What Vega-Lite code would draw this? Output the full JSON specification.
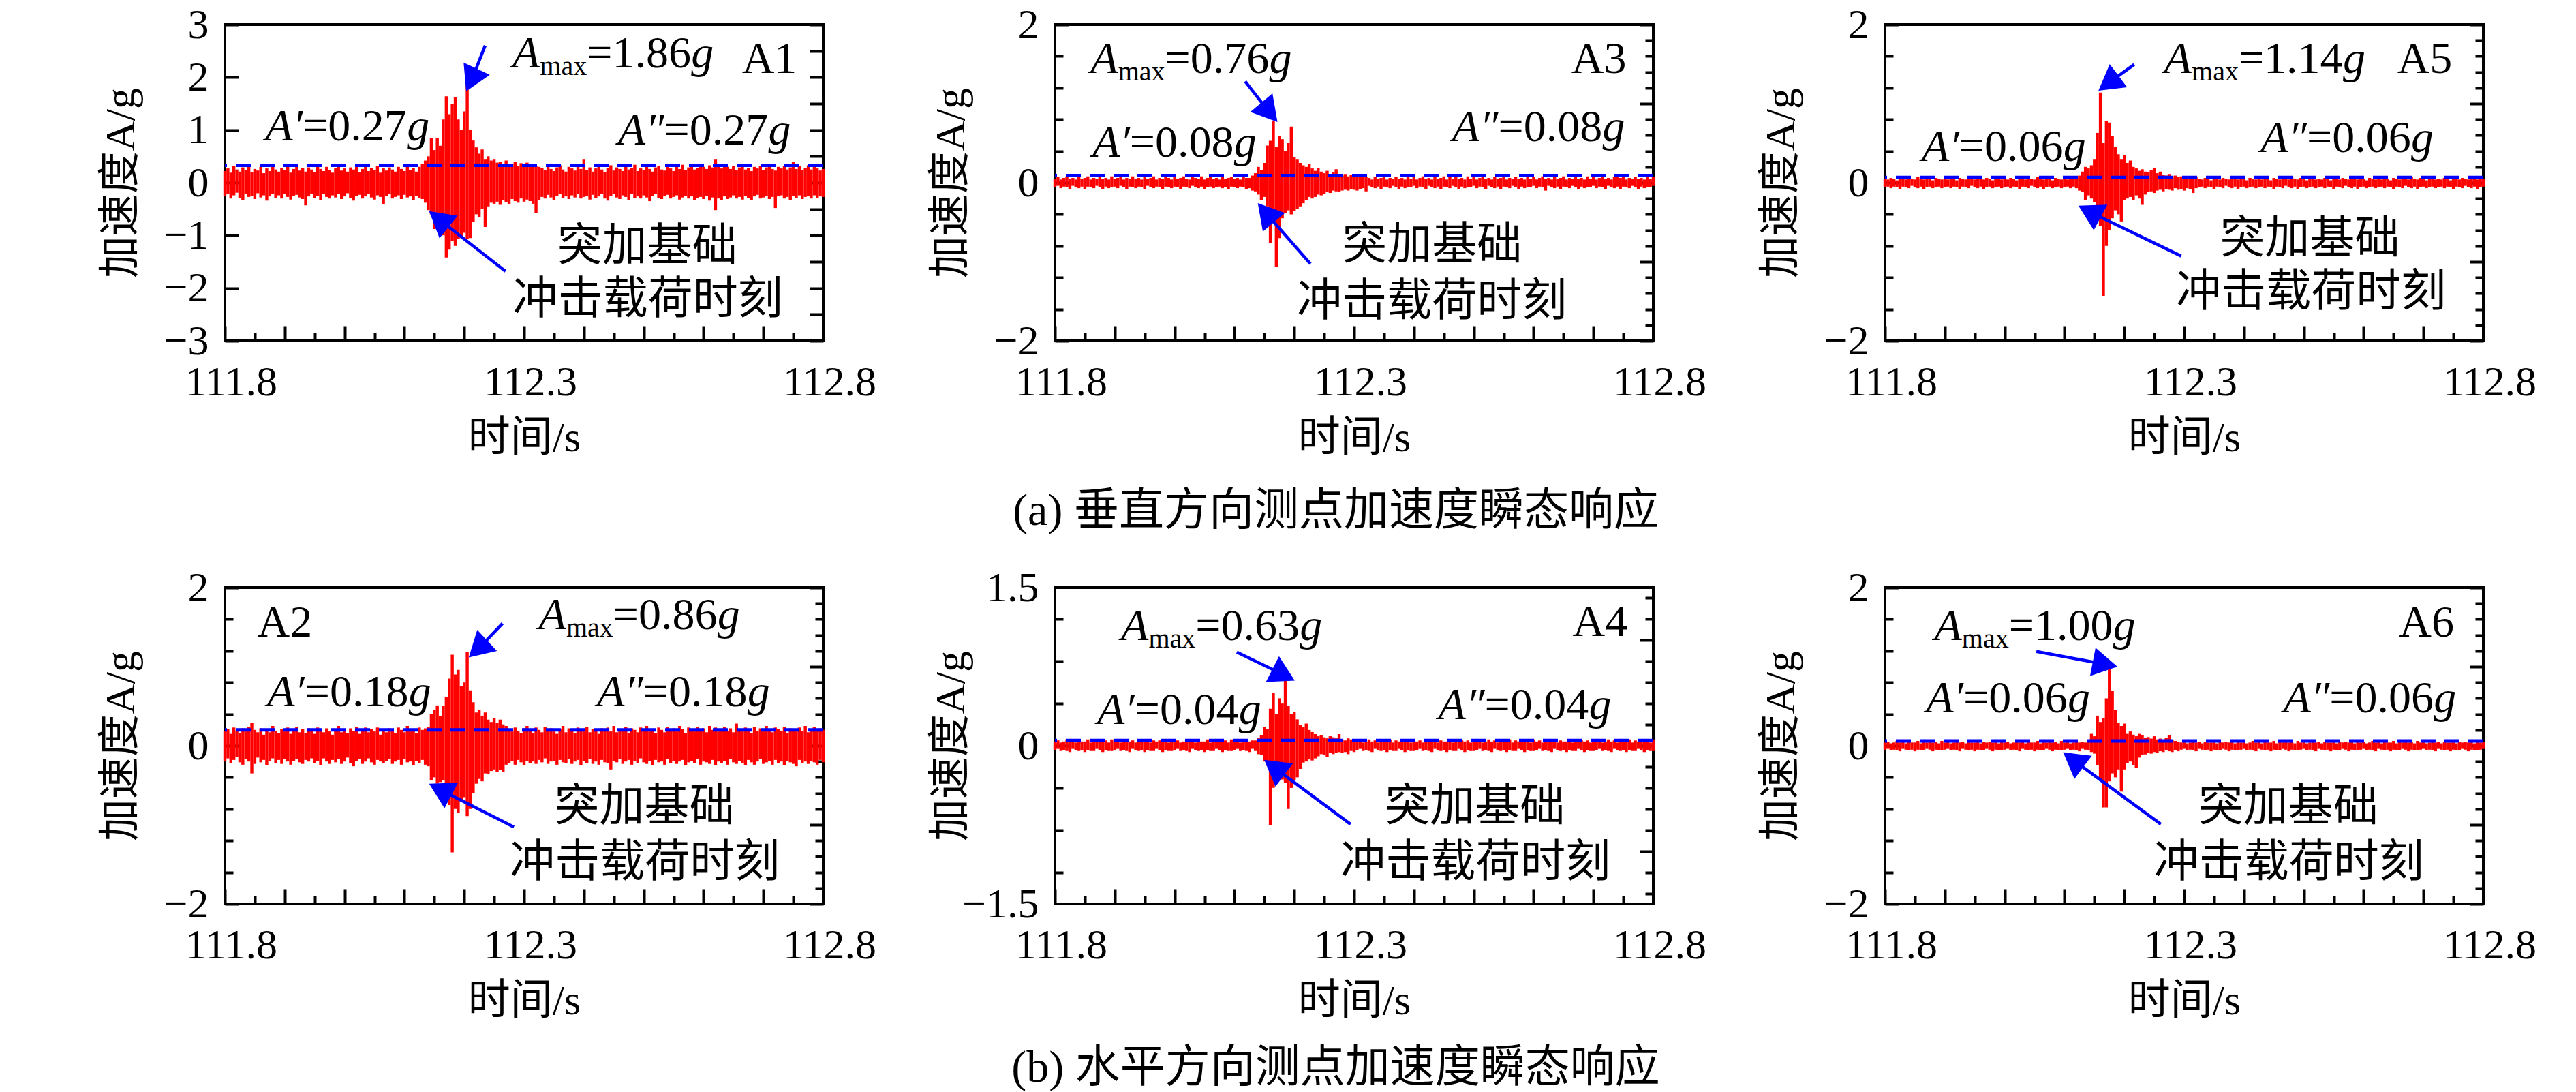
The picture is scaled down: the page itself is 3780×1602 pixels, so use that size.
{
  "$schema": "https://vega.github.io/schema/vega-lite/v6.json",
  "background": "white",
  "padding": {"left": 143, "top": 3, "right": 5, "bottom": 0},
  "datasets": {
    "s1": [
      {"t":111.800,"l":-0.26,"h":0.22},{"t":111.805,"l":-0.21,"h":0.27},{"t":111.810,"l":-0.30,"h":0.19},{"t":111.815,"l":-0.24,"h":0.31},{"t":111.820,"l":-0.19,"h":0.25},
      {"t":111.825,"l":-0.29,"h":0.21},{"t":111.830,"l":-0.33,"h":0.29},{"t":111.835,"l":-0.22,"h":0.24},{"t":111.840,"l":-0.27,"h":0.33},{"t":111.845,"l":-0.25,"h":0.20},
      {"t":111.850,"l":-0.31,"h":0.26},{"t":111.855,"l":-0.20,"h":0.23},{"t":111.860,"l":-0.28,"h":0.30},{"t":111.865,"l":-0.24,"h":0.18},{"t":111.870,"l":-0.34,"h":0.27},
      {"t":111.875,"l":-0.26,"h":0.22},{"t":111.880,"l":-0.21,"h":0.34},{"t":111.885,"l":-0.29,"h":0.25},{"t":111.890,"l":-0.24,"h":0.21},{"t":111.895,"l":-0.30,"h":0.28},
      {"t":111.900,"l":-0.22,"h":0.24},{"t":111.905,"l":-0.27,"h":0.30},{"t":111.910,"l":-0.32,"h":0.19},{"t":111.915,"l":-0.25,"h":0.26},{"t":111.920,"l":-0.23,"h":0.32},
      {"t":111.925,"l":-0.28,"h":0.23},{"t":111.930,"l":-0.31,"h":0.28},{"t":111.935,"l":-0.43,"h":0.21},{"t":111.940,"l":-0.26,"h":0.29},{"t":111.945,"l":-0.22,"h":0.25},
      {"t":111.950,"l":-0.29,"h":0.20},{"t":111.955,"l":-0.25,"h":0.31},{"t":111.960,"l":-0.33,"h":0.26},{"t":111.965,"l":-0.21,"h":0.22},{"t":111.970,"l":-0.27,"h":0.30},
      {"t":111.975,"l":-0.30,"h":0.24},{"t":111.980,"l":-0.24,"h":0.19},{"t":111.985,"l":-0.28,"h":0.28},{"t":111.990,"l":-0.22,"h":0.33},{"t":111.995,"l":-0.31,"h":0.23},
      {"t":112.000,"l":-0.26,"h":0.27},{"t":112.005,"l":-0.20,"h":0.21},{"t":112.010,"l":-0.29,"h":0.29},{"t":112.015,"l":-0.34,"h":0.25},{"t":112.020,"l":-0.25,"h":0.32},
      {"t":112.025,"l":-0.23,"h":0.20},{"t":112.030,"l":-0.30,"h":0.26},{"t":112.035,"l":-0.26,"h":0.30},{"t":112.040,"l":-0.21,"h":0.22},{"t":112.045,"l":-0.28,"h":0.28},
      {"t":112.050,"l":-0.32,"h":0.24},{"t":112.055,"l":-0.24,"h":0.31},{"t":112.060,"l":-0.27,"h":0.19},{"t":112.065,"l":-0.40,"h":0.27},{"t":112.070,"l":-0.25,"h":0.23},
      {"t":112.075,"l":-0.22,"h":0.29},{"t":112.080,"l":-0.30,"h":0.25},{"t":112.085,"l":-0.27,"h":0.21},{"t":112.090,"l":-0.24,"h":0.30},{"t":112.095,"l":-0.31,"h":0.26},
      {"t":112.100,"l":-0.23,"h":0.22},{"t":112.105,"l":-0.28,"h":0.33},{"t":112.110,"l":-0.26,"h":0.24},{"t":112.115,"l":-0.33,"h":0.28},{"t":112.120,"l":-0.25,"h":0.21},
      {"t":112.125,"l":-0.29,"h":0.30},{"t":112.130,"l":-0.31,"h":0.35},{"t":112.135,"l":-0.38,"h":0.42},{"t":112.140,"l":-0.52,"h":0.50},{"t":112.145,"l":-0.60,"h":0.84},
      {"t":112.150,"l":-0.88,"h":0.62},{"t":112.155,"l":-0.70,"h":0.85},{"t":112.160,"l":-0.95,"h":0.70},{"t":112.165,"l":-1.00,"h":1.20},{"t":112.170,"l":-1.42,"h":1.64},
      {"t":112.175,"l":-1.27,"h":1.30},{"t":112.180,"l":-1.10,"h":1.50},{"t":112.185,"l":-1.20,"h":1.62},{"t":112.190,"l":-1.06,"h":1.20},{"t":112.195,"l":-1.05,"h":1.00},
      {"t":112.200,"l":-0.95,"h":1.35},{"t":112.205,"l":-1.06,"h":1.86},{"t":112.210,"l":-1.05,"h":1.00},{"t":112.215,"l":-0.75,"h":0.80},{"t":112.220,"l":-0.60,"h":0.67},
      {"t":112.225,"l":-0.65,"h":0.55},{"t":112.230,"l":-0.50,"h":0.63},{"t":112.235,"l":-0.84,"h":0.45},{"t":112.240,"l":-0.45,"h":0.50},{"t":112.245,"l":-0.38,"h":0.42},
      {"t":112.250,"l":-0.40,"h":0.45},{"t":112.255,"l":-0.36,"h":0.38},{"t":112.260,"l":-0.42,"h":0.40},{"t":112.265,"l":-0.33,"h":0.35},{"t":112.270,"l":-0.37,"h":0.42},
      {"t":112.275,"l":-0.40,"h":0.33},{"t":112.280,"l":-0.31,"h":0.36},{"t":112.285,"l":-0.35,"h":0.40},{"t":112.290,"l":-0.38,"h":0.31},{"t":112.295,"l":-0.30,"h":0.37},
      {"t":112.300,"l":-0.36,"h":0.33},{"t":112.305,"l":-0.32,"h":0.38},{"t":112.310,"l":-0.35,"h":0.30},{"t":112.315,"l":-0.40,"h":0.34},{"t":112.320,"l":-0.58,"h":0.32},
      {"t":112.325,"l":-0.33,"h":0.30},{"t":112.330,"l":-0.27,"h":0.28},{"t":112.335,"l":-0.30,"h":0.24},{"t":112.340,"l":-0.23,"h":0.31},{"t":112.345,"l":-0.28,"h":0.26},
      {"t":112.350,"l":-0.33,"h":0.22},{"t":112.355,"l":-0.25,"h":0.29},{"t":112.360,"l":-0.22,"h":0.33},{"t":112.365,"l":-0.29,"h":0.25},{"t":112.370,"l":-0.26,"h":0.21},
      {"t":112.375,"l":-0.31,"h":0.30},{"t":112.380,"l":-0.24,"h":0.27},{"t":112.385,"l":-0.28,"h":0.23},{"t":112.390,"l":-0.21,"h":0.32},{"t":112.395,"l":-0.30,"h":0.26},
      {"t":112.400,"l":-0.27,"h":0.45},{"t":112.405,"l":-0.25,"h":0.24},{"t":112.410,"l":-0.32,"h":0.29},{"t":112.415,"l":-0.23,"h":0.21},{"t":112.420,"l":-0.29,"h":0.27},
      {"t":112.425,"l":-0.26,"h":0.31},{"t":112.430,"l":-0.22,"h":0.25},{"t":112.435,"l":-0.30,"h":0.20},{"t":112.440,"l":-0.34,"h":0.28},{"t":112.445,"l":-0.25,"h":0.33},
      {"t":112.450,"l":-0.21,"h":0.23},{"t":112.455,"l":-0.28,"h":0.29},{"t":112.460,"l":-0.31,"h":0.26},{"t":112.465,"l":-0.24,"h":0.22},{"t":112.470,"l":-0.27,"h":0.31},
      {"t":112.475,"l":-0.33,"h":0.25},{"t":112.480,"l":-0.22,"h":0.28},{"t":112.485,"l":-0.29,"h":0.34},{"t":112.490,"l":-0.26,"h":0.22},{"t":112.495,"l":-0.30,"h":0.27},
      {"t":112.500,"l":-0.24,"h":0.24},{"t":112.505,"l":-0.28,"h":0.30},{"t":112.510,"l":-0.35,"h":0.26},{"t":112.515,"l":-0.25,"h":0.21},{"t":112.520,"l":-0.22,"h":0.29},
      {"t":112.525,"l":-0.29,"h":0.32},{"t":112.530,"l":-0.31,"h":0.25},{"t":112.535,"l":-0.26,"h":0.23},{"t":112.540,"l":-0.23,"h":0.30},{"t":112.545,"l":-0.30,"h":0.27},
      {"t":112.550,"l":-0.27,"h":0.22},{"t":112.555,"l":-0.24,"h":0.31},{"t":112.560,"l":-0.32,"h":0.26},{"t":112.565,"l":-0.28,"h":0.34},{"t":112.570,"l":-0.25,"h":0.24},
      {"t":112.575,"l":-0.30,"h":0.29},{"t":112.580,"l":-0.26,"h":0.33},{"t":112.585,"l":-0.33,"h":0.25},{"t":112.590,"l":-0.29,"h":0.28},{"t":112.595,"l":-0.27,"h":0.36},
      {"t":112.600,"l":-0.31,"h":0.30},{"t":112.605,"l":-0.25,"h":0.26},{"t":112.610,"l":-0.34,"h":0.33},{"t":112.615,"l":-0.28,"h":0.29},{"t":112.620,"l":-0.52,"h":0.45},
      {"t":112.625,"l":-0.30,"h":0.31},{"t":112.630,"l":-0.33,"h":0.27},{"t":112.635,"l":-0.26,"h":0.35},{"t":112.640,"l":-0.31,"h":0.30},{"t":112.645,"l":-0.28,"h":0.26},
      {"t":112.650,"l":-0.24,"h":0.32},{"t":112.655,"l":-0.30,"h":0.24},{"t":112.660,"l":-0.27,"h":0.29},{"t":112.665,"l":-0.32,"h":0.33},{"t":112.670,"l":-0.25,"h":0.25},
      {"t":112.675,"l":-0.29,"h":0.28},{"t":112.680,"l":-0.33,"h":0.22},{"t":112.685,"l":-0.26,"h":0.30},{"t":112.690,"l":-0.23,"h":0.27},{"t":112.695,"l":-0.30,"h":0.31},
      {"t":112.700,"l":-0.28,"h":0.24},{"t":112.705,"l":-0.25,"h":0.29},{"t":112.710,"l":-0.31,"h":0.33},{"t":112.715,"l":-0.27,"h":0.26},{"t":112.720,"l":-0.48,"h":0.23},
      {"t":112.725,"l":-0.26,"h":0.30},{"t":112.730,"l":-0.24,"h":0.27},{"t":112.735,"l":-0.30,"h":0.32},{"t":112.740,"l":-0.27,"h":0.25},{"t":112.745,"l":-0.33,"h":0.29},
      {"t":112.750,"l":-0.25,"h":0.40},{"t":112.755,"l":-0.29,"h":0.26},{"t":112.760,"l":-0.24,"h":0.31},{"t":112.765,"l":-0.31,"h":0.24},{"t":112.770,"l":-0.27,"h":0.28},
      {"t":112.775,"l":-0.26,"h":0.33},{"t":112.780,"l":-0.30,"h":0.25},{"t":112.785,"l":-0.24,"h":0.30},{"t":112.790,"l":-0.29,"h":0.27},{"t":112.795,"l":-0.26,"h":0.23},
      {"t":112.800,"l":-0.27,"h":0.26}
    ],
    "s2": [
      {"t":111.800,"l":-0.20,"h":0.18},{"t":111.805,"l":-0.16,"h":0.21},{"t":111.810,"l":-0.22,"h":0.15},{"t":111.815,"l":-0.18,"h":0.23},{"t":111.820,"l":-0.14,"h":0.19},
      {"t":111.825,"l":-0.21,"h":0.16},{"t":111.830,"l":-0.24,"h":0.22},{"t":111.835,"l":-0.17,"h":0.18},{"t":111.840,"l":-0.20,"h":0.24},{"t":111.845,"l":-0.35,"h":0.29},
      {"t":111.850,"l":-0.23,"h":0.20},{"t":111.855,"l":-0.15,"h":0.17},{"t":111.860,"l":-0.21,"h":0.22},{"t":111.865,"l":-0.18,"h":0.14},{"t":111.870,"l":-0.25,"h":0.20},
      {"t":111.875,"l":-0.19,"h":0.17},{"t":111.880,"l":-0.16,"h":0.25},{"t":111.885,"l":-0.22,"h":0.19},{"t":111.890,"l":-0.18,"h":0.16},{"t":111.895,"l":-0.23,"h":0.21},
      {"t":111.900,"l":-0.17,"h":0.18},{"t":111.905,"l":-0.20,"h":0.23},{"t":111.910,"l":-0.24,"h":0.15},{"t":111.915,"l":-0.19,"h":0.20},{"t":111.920,"l":-0.17,"h":0.24},
      {"t":111.925,"l":-0.21,"h":0.17},{"t":111.930,"l":-0.23,"h":0.21},{"t":111.935,"l":-0.18,"h":0.16},{"t":111.940,"l":-0.20,"h":0.22},{"t":111.945,"l":-0.16,"h":0.19},
      {"t":111.950,"l":-0.22,"h":0.15},{"t":111.955,"l":-0.19,"h":0.23},{"t":111.960,"l":-0.25,"h":0.20},{"t":111.965,"l":-0.16,"h":0.17},{"t":111.970,"l":-0.20,"h":0.22},
      {"t":111.975,"l":-0.23,"h":0.18},{"t":111.980,"l":-0.18,"h":0.14},{"t":111.985,"l":-0.21,"h":0.21},{"t":111.990,"l":-0.17,"h":0.25},{"t":111.995,"l":-0.23,"h":0.17},
      {"t":112.000,"l":-0.20,"h":0.20},{"t":112.005,"l":-0.15,"h":0.16},{"t":112.010,"l":-0.22,"h":0.22},{"t":112.015,"l":-0.26,"h":0.19},{"t":112.020,"l":-0.19,"h":0.24},
      {"t":112.025,"l":-0.17,"h":0.15},{"t":112.030,"l":-0.23,"h":0.20},{"t":112.035,"l":-0.20,"h":0.23},{"t":112.040,"l":-0.16,"h":0.17},{"t":112.045,"l":-0.21,"h":0.21},
      {"t":112.050,"l":-0.24,"h":0.18},{"t":112.055,"l":-0.18,"h":0.23},{"t":112.060,"l":-0.20,"h":0.14},{"t":112.065,"l":-0.22,"h":0.20},{"t":112.070,"l":-0.19,"h":0.17},
      {"t":112.075,"l":-0.17,"h":0.22},{"t":112.080,"l":-0.23,"h":0.19},{"t":112.085,"l":-0.20,"h":0.16},{"t":112.090,"l":-0.18,"h":0.23},{"t":112.095,"l":-0.24,"h":0.20},
      {"t":112.100,"l":-0.17,"h":0.17},{"t":112.105,"l":-0.21,"h":0.25},{"t":112.110,"l":-0.20,"h":0.18},{"t":112.115,"l":-0.25,"h":0.21},{"t":112.120,"l":-0.19,"h":0.16},
      {"t":112.125,"l":-0.22,"h":0.23},{"t":112.130,"l":-0.18,"h":0.20},{"t":112.135,"l":-0.24,"h":0.22},{"t":112.140,"l":-0.26,"h":0.24},{"t":112.145,"l":-0.44,"h":0.40},
      {"t":112.150,"l":-0.40,"h":0.45},{"t":112.155,"l":-0.48,"h":0.51},{"t":112.160,"l":-0.46,"h":0.38},{"t":112.165,"l":-0.44,"h":0.50},{"t":112.170,"l":-0.70,"h":0.62},
      {"t":112.175,"l":-0.75,"h":0.85},{"t":112.180,"l":-1.35,"h":1.15},{"t":112.185,"l":-0.80,"h":0.90},{"t":112.190,"l":-0.85,"h":0.96},{"t":112.195,"l":-0.70,"h":0.75},
      {"t":112.200,"l":-0.65,"h":0.80},{"t":112.205,"l":-0.89,"h":1.18},{"t":112.210,"l":-0.80,"h":0.70},{"t":112.215,"l":-0.60,"h":0.55},{"t":112.220,"l":-0.48,"h":0.42},
      {"t":112.225,"l":-0.42,"h":0.45},{"t":112.230,"l":-0.45,"h":0.38},{"t":112.235,"l":-0.35,"h":0.42},{"t":112.240,"l":-0.36,"h":0.33},{"t":112.245,"l":-0.32,"h":0.30},
      {"t":112.250,"l":-0.30,"h":0.35},{"t":112.255,"l":-0.33,"h":0.29},{"t":112.260,"l":-0.31,"h":0.33},{"t":112.265,"l":-0.33,"h":0.27},{"t":112.270,"l":-0.24,"h":0.25},
      {"t":112.275,"l":-0.22,"h":0.21},{"t":112.280,"l":-0.19,"h":0.18},{"t":112.285,"l":-0.24,"h":0.23},{"t":112.290,"l":-0.18,"h":0.19},{"t":112.295,"l":-0.21,"h":0.16},
      {"t":112.300,"l":-0.25,"h":0.22},{"t":112.305,"l":-0.19,"h":0.25},{"t":112.310,"l":-0.22,"h":0.19},{"t":112.315,"l":-0.20,"h":0.16},{"t":112.320,"l":-0.23,"h":0.23},
      {"t":112.325,"l":-0.18,"h":0.20},{"t":112.330,"l":-0.21,"h":0.17},{"t":112.335,"l":-0.16,"h":0.24},{"t":112.340,"l":-0.23,"h":0.19},{"t":112.345,"l":-0.20,"h":0.22},
      {"t":112.350,"l":-0.19,"h":0.18},{"t":112.355,"l":-0.24,"h":0.15},{"t":112.360,"l":-0.18,"h":0.21},{"t":112.365,"l":-0.21,"h":0.25},{"t":112.370,"l":-0.22,"h":0.17},
      {"t":112.375,"l":-0.17,"h":0.22},{"t":112.380,"l":-0.23,"h":0.19},{"t":112.385,"l":-0.20,"h":0.16},{"t":112.390,"l":-0.18,"h":0.23},{"t":112.395,"l":-0.25,"h":0.20},
      {"t":112.400,"l":-0.19,"h":0.18},{"t":112.405,"l":-0.22,"h":0.24},{"t":112.410,"l":-0.17,"h":0.17},{"t":112.415,"l":-0.23,"h":0.21},{"t":112.420,"l":-0.20,"h":0.19},
      {"t":112.425,"l":-0.24,"h":0.15},{"t":112.430,"l":-0.18,"h":0.22},{"t":112.435,"l":-0.21,"h":0.20},{"t":112.440,"l":-0.22,"h":0.23},{"t":112.445,"l":-0.30,"h":0.18},
      {"t":112.450,"l":-0.19,"h":0.25},{"t":112.455,"l":-0.21,"h":0.17},{"t":112.460,"l":-0.17,"h":0.21},{"t":112.465,"l":-0.23,"h":0.19},{"t":112.470,"l":-0.20,"h":0.24},
      {"t":112.475,"l":-0.18,"h":0.16},{"t":112.480,"l":-0.24,"h":0.22},{"t":112.485,"l":-0.19,"h":0.20},{"t":112.490,"l":-0.22,"h":0.17},{"t":112.495,"l":-0.16,"h":0.23},
      {"t":112.500,"l":-0.21,"h":0.19},{"t":112.505,"l":-0.23,"h":0.25},{"t":112.510,"l":-0.19,"h":0.18},{"t":112.515,"l":-0.25,"h":0.21},{"t":112.520,"l":-0.18,"h":0.16},
      {"t":112.525,"l":-0.21,"h":0.23},{"t":112.530,"l":-0.20,"h":0.20},{"t":112.535,"l":-0.24,"h":0.17},{"t":112.540,"l":-0.17,"h":0.24},{"t":112.545,"l":-0.22,"h":0.19},
      {"t":112.550,"l":-0.19,"h":0.22},{"t":112.555,"l":-0.23,"h":0.18},{"t":112.560,"l":-0.20,"h":0.25},{"t":112.565,"l":-0.18,"h":0.21},{"t":112.570,"l":-0.25,"h":0.16},
      {"t":112.575,"l":-0.21,"h":0.23},{"t":112.580,"l":-0.19,"h":0.20},{"t":112.585,"l":-0.22,"h":0.18},{"t":112.590,"l":-0.17,"h":0.24},{"t":112.595,"l":-0.24,"h":0.19},
      {"t":112.600,"l":-0.20,"h":0.22},{"t":112.605,"l":-0.21,"h":0.17},{"t":112.610,"l":-0.23,"h":0.25},{"t":112.615,"l":-0.18,"h":0.20},{"t":112.620,"l":-0.25,"h":0.23},
      {"t":112.625,"l":-0.20,"h":0.18},{"t":112.630,"l":-0.22,"h":0.21},{"t":112.635,"l":-0.19,"h":0.24},{"t":112.640,"l":-0.24,"h":0.19},{"t":112.645,"l":-0.17,"h":0.22},
      {"t":112.650,"l":-0.21,"h":0.17},{"t":112.655,"l":-0.23,"h":0.28},{"t":112.660,"l":-0.19,"h":0.21},{"t":112.665,"l":-0.22,"h":0.18},{"t":112.670,"l":-0.25,"h":0.23},
      {"t":112.675,"l":-0.18,"h":0.20},{"t":112.680,"l":-0.21,"h":0.16},{"t":112.685,"l":-0.24,"h":0.24},{"t":112.690,"l":-0.20,"h":0.19},{"t":112.695,"l":-0.17,"h":0.22},
      {"t":112.700,"l":-0.23,"h":0.18},{"t":112.705,"l":-0.21,"h":0.25},{"t":112.710,"l":-0.19,"h":0.20},{"t":112.715,"l":-0.24,"h":0.17},{"t":112.720,"l":-0.18,"h":0.23},
      {"t":112.725,"l":-0.22,"h":0.21},{"t":112.730,"l":-0.20,"h":0.19},{"t":112.735,"l":-0.25,"h":0.24},{"t":112.740,"l":-0.19,"h":0.16},{"t":112.745,"l":-0.21,"h":0.22},
      {"t":112.750,"l":-0.23,"h":0.20},{"t":112.755,"l":-0.26,"h":0.18},{"t":112.760,"l":-0.18,"h":0.23},{"t":112.765,"l":-0.22,"h":0.19},{"t":112.770,"l":-0.20,"h":0.25},
      {"t":112.775,"l":-0.23,"h":0.17},{"t":112.780,"l":-0.19,"h":0.21},{"t":112.785,"l":-0.21,"h":0.24},{"t":112.790,"l":-0.24,"h":0.18},{"t":112.795,"l":-0.18,"h":0.22},
      {"t":112.800,"l":-0.21,"h":0.20}
    ],
    "s3": [
      {"t":111.800,"l":-0.06,"h":0.05},{"t":111.805,"l":-0.04,"h":0.07},{"t":111.810,"l":-0.07,"h":0.04},{"t":111.815,"l":-0.05,"h":0.06},{"t":111.820,"l":-0.06,"h":0.08},
      {"t":111.825,"l":-0.08,"h":0.05},{"t":111.830,"l":-0.04,"h":0.06},{"t":111.835,"l":-0.06,"h":0.04},{"t":111.840,"l":-0.07,"h":0.07},{"t":111.845,"l":-0.05,"h":0.05},
      {"t":111.850,"l":-0.08,"h":0.06},{"t":111.855,"l":-0.05,"h":0.08},{"t":111.860,"l":-0.06,"h":0.04},{"t":111.865,"l":-0.07,"h":0.06},{"t":111.870,"l":-0.04,"h":0.05},
      {"t":111.875,"l":-0.06,"h":0.07},{"t":111.880,"l":-0.08,"h":0.05},{"t":111.885,"l":-0.05,"h":0.06},{"t":111.890,"l":-0.07,"h":0.04},{"t":111.895,"l":-0.06,"h":0.08},
      {"t":111.900,"l":-0.05,"h":0.05},{"t":111.905,"l":-0.07,"h":0.06},{"t":111.910,"l":-0.04,"h":0.07},{"t":111.915,"l":-0.06,"h":0.04},{"t":111.920,"l":-0.08,"h":0.06},
      {"t":111.925,"l":-0.05,"h":0.05},{"t":111.930,"l":-0.06,"h":0.08},{"t":111.935,"l":-0.07,"h":0.05},{"t":111.940,"l":-0.05,"h":0.06},{"t":111.945,"l":-0.06,"h":0.04},
      {"t":111.950,"l":-0.08,"h":0.07},{"t":111.955,"l":-0.04,"h":0.05},{"t":111.960,"l":-0.06,"h":0.06},{"t":111.965,"l":-0.07,"h":0.08},{"t":111.970,"l":-0.05,"h":0.04},
      {"t":111.975,"l":-0.06,"h":0.06},{"t":111.980,"l":-0.08,"h":0.05},{"t":111.985,"l":-0.05,"h":0.07},{"t":111.990,"l":-0.06,"h":0.06},{"t":111.995,"l":-0.07,"h":0.04},
      {"t":112.000,"l":-0.05,"h":0.07},{"t":112.005,"l":-0.06,"h":0.05},{"t":112.010,"l":-0.08,"h":0.06},{"t":112.015,"l":-0.05,"h":0.08},{"t":112.020,"l":-0.06,"h":0.05},
      {"t":112.025,"l":-0.07,"h":0.04},{"t":112.030,"l":-0.04,"h":0.07},{"t":112.035,"l":-0.06,"h":0.06},{"t":112.040,"l":-0.07,"h":0.05},{"t":112.045,"l":-0.05,"h":0.08},
      {"t":112.050,"l":-0.08,"h":0.04},{"t":112.055,"l":-0.06,"h":0.06},{"t":112.060,"l":-0.05,"h":0.07},{"t":112.065,"l":-0.07,"h":0.05},{"t":112.070,"l":-0.06,"h":0.06},
      {"t":112.075,"l":-0.05,"h":0.04},{"t":112.080,"l":-0.07,"h":0.08},{"t":112.085,"l":-0.06,"h":0.05},{"t":112.090,"l":-0.08,"h":0.06},{"t":112.095,"l":-0.05,"h":0.07},
      {"t":112.100,"l":-0.06,"h":0.05},{"t":112.105,"l":-0.07,"h":0.06},{"t":112.110,"l":-0.05,"h":0.04},{"t":112.115,"l":-0.06,"h":0.07},{"t":112.120,"l":-0.08,"h":0.06},
      {"t":112.125,"l":-0.07,"h":0.06},{"t":112.130,"l":-0.10,"h":0.09},{"t":112.135,"l":-0.11,"h":0.12},{"t":112.140,"l":-0.15,"h":0.20},{"t":112.145,"l":-0.22,"h":0.16},
      {"t":112.150,"l":-0.18,"h":0.25},{"t":112.155,"l":-0.30,"h":0.47},{"t":112.160,"l":-0.76,"h":0.53},{"t":112.165,"l":-0.50,"h":0.78},{"t":112.170,"l":-1.07,"h":0.45},
      {"t":112.175,"l":-0.70,"h":0.59},{"t":112.180,"l":-0.45,"h":0.55},{"t":112.185,"l":-0.38,"h":0.40},{"t":112.190,"l":-0.35,"h":0.50},{"t":112.195,"l":-0.40,"h":0.71},
      {"t":112.200,"l":-0.36,"h":0.32},{"t":112.205,"l":-0.33,"h":0.30},{"t":112.210,"l":-0.30,"h":0.25},{"t":112.215,"l":-0.26,"h":0.22},{"t":112.220,"l":-0.22,"h":0.20},
      {"t":112.225,"l":-0.18,"h":0.24},{"t":112.230,"l":-0.20,"h":0.18},{"t":112.235,"l":-0.18,"h":0.15},{"t":112.240,"l":-0.15,"h":0.19},{"t":112.245,"l":-0.16,"h":0.14},
      {"t":112.250,"l":-0.14,"h":0.12},{"t":112.255,"l":-0.12,"h":0.15},{"t":112.260,"l":-0.13,"h":0.11},{"t":112.265,"l":-0.10,"h":0.13},{"t":112.270,"l":-0.11,"h":0.17},
      {"t":112.275,"l":-0.12,"h":0.10},{"t":112.280,"l":-0.10,"h":0.09},{"t":112.285,"l":-0.09,"h":0.11},{"t":112.290,"l":-0.10,"h":0.08},{"t":112.295,"l":-0.08,"h":0.10},
      {"t":112.300,"l":-0.09,"h":0.09},{"t":112.305,"l":-0.10,"h":0.08},{"t":112.310,"l":-0.08,"h":0.07},{"t":112.315,"l":-0.07,"h":0.08},{"t":112.320,"l":-0.11,"h":0.07},
      {"t":112.325,"l":-0.04,"h":0.06},{"t":112.330,"l":-0.06,"h":0.04},{"t":112.335,"l":-0.07,"h":0.07},{"t":112.340,"l":-0.05,"h":0.05},{"t":112.345,"l":-0.08,"h":0.06},
      {"t":112.350,"l":-0.05,"h":0.08},{"t":112.355,"l":-0.06,"h":0.04},{"t":112.360,"l":-0.07,"h":0.06},{"t":112.365,"l":-0.04,"h":0.05},{"t":112.370,"l":-0.06,"h":0.07},
      {"t":112.375,"l":-0.08,"h":0.05},{"t":112.380,"l":-0.05,"h":0.06},{"t":112.385,"l":-0.07,"h":0.04},{"t":112.390,"l":-0.06,"h":0.08},{"t":112.395,"l":-0.06,"h":0.05},
      {"t":112.400,"l":-0.04,"h":0.07},{"t":112.405,"l":-0.07,"h":0.04},{"t":112.410,"l":-0.05,"h":0.06},{"t":112.415,"l":-0.06,"h":0.08},{"t":112.420,"l":-0.08,"h":0.05},
      {"t":112.425,"l":-0.04,"h":0.06},{"t":112.430,"l":-0.06,"h":0.04},{"t":112.435,"l":-0.07,"h":0.07},{"t":112.440,"l":-0.05,"h":0.05},{"t":112.445,"l":-0.08,"h":0.06},
      {"t":112.450,"l":-0.05,"h":0.08},{"t":112.455,"l":-0.06,"h":0.04},{"t":112.460,"l":-0.07,"h":0.10},{"t":112.465,"l":-0.04,"h":0.05},{"t":112.470,"l":-0.06,"h":0.07},
      {"t":112.475,"l":-0.08,"h":0.05},{"t":112.480,"l":-0.05,"h":0.06},{"t":112.485,"l":-0.07,"h":0.04},{"t":112.490,"l":-0.06,"h":0.08},{"t":112.495,"l":-0.06,"h":0.05},
      {"t":112.500,"l":-0.04,"h":0.07},{"t":112.505,"l":-0.07,"h":0.04},{"t":112.510,"l":-0.05,"h":0.06},{"t":112.515,"l":-0.06,"h":0.08},{"t":112.520,"l":-0.08,"h":0.05},
      {"t":112.525,"l":-0.04,"h":0.06},{"t":112.530,"l":-0.06,"h":0.04},{"t":112.535,"l":-0.07,"h":0.07},{"t":112.540,"l":-0.05,"h":0.05},{"t":112.545,"l":-0.08,"h":0.06},
      {"t":112.550,"l":-0.05,"h":0.08},{"t":112.555,"l":-0.06,"h":0.04},{"t":112.560,"l":-0.07,"h":0.06},{"t":112.565,"l":-0.04,"h":0.05},{"t":112.570,"l":-0.06,"h":0.07},
      {"t":112.575,"l":-0.08,"h":0.05},{"t":112.580,"l":-0.05,"h":0.06},{"t":112.585,"l":-0.07,"h":0.04},{"t":112.590,"l":-0.06,"h":0.08},{"t":112.595,"l":-0.06,"h":0.05},
      {"t":112.600,"l":-0.04,"h":0.07},{"t":112.605,"l":-0.07,"h":0.04},{"t":112.610,"l":-0.05,"h":0.06},{"t":112.615,"l":-0.06,"h":0.08},{"t":112.620,"l":-0.10,"h":0.05},
      {"t":112.625,"l":-0.04,"h":0.06},{"t":112.630,"l":-0.06,"h":0.04},{"t":112.635,"l":-0.07,"h":0.07},{"t":112.640,"l":-0.05,"h":0.05},{"t":112.645,"l":-0.08,"h":0.06},
      {"t":112.650,"l":-0.05,"h":0.08},{"t":112.655,"l":-0.06,"h":0.04},{"t":112.660,"l":-0.07,"h":0.06},{"t":112.665,"l":-0.04,"h":0.05},{"t":112.670,"l":-0.06,"h":0.07},
      {"t":112.675,"l":-0.08,"h":0.05},{"t":112.680,"l":-0.05,"h":0.06},{"t":112.685,"l":-0.07,"h":0.04},{"t":112.690,"l":-0.06,"h":0.08},{"t":112.695,"l":-0.06,"h":0.05},
      {"t":112.700,"l":-0.04,"h":0.07},{"t":112.705,"l":-0.07,"h":0.04},{"t":112.710,"l":-0.05,"h":0.06},{"t":112.715,"l":-0.06,"h":0.08},{"t":112.720,"l":-0.08,"h":0.05},
      {"t":112.725,"l":-0.04,"h":0.06},{"t":112.730,"l":-0.06,"h":0.04},{"t":112.735,"l":-0.07,"h":0.07},{"t":112.740,"l":-0.05,"h":0.09},{"t":112.745,"l":-0.08,"h":0.06},
      {"t":112.750,"l":-0.05,"h":0.08},{"t":112.755,"l":-0.06,"h":0.04},{"t":112.760,"l":-0.07,"h":0.06},{"t":112.765,"l":-0.04,"h":0.05},{"t":112.770,"l":-0.06,"h":0.07},
      {"t":112.775,"l":-0.08,"h":0.05},{"t":112.780,"l":-0.05,"h":0.06},{"t":112.785,"l":-0.07,"h":0.04},{"t":112.790,"l":-0.06,"h":0.08},{"t":112.795,"l":-0.06,"h":0.05},
      {"t":112.800,"l":-0.04,"h":0.07}
    ],
    "s4": [
      {"t":111.800,"l":-0.04,"h":0.04},{"t":111.805,"l":-0.03,"h":0.05},{"t":111.810,"l":-0.05,"h":0.03},{"t":111.815,"l":-0.04,"h":0.04},{"t":111.820,"l":-0.05,"h":0.06},
      {"t":111.825,"l":-0.06,"h":0.04},{"t":111.830,"l":-0.03,"h":0.05},{"t":111.835,"l":-0.04,"h":0.03},{"t":111.840,"l":-0.05,"h":0.05},{"t":111.845,"l":-0.04,"h":0.04},
      {"t":111.850,"l":-0.06,"h":0.04},{"t":111.855,"l":-0.04,"h":0.06},{"t":111.860,"l":-0.05,"h":0.03},{"t":111.865,"l":-0.05,"h":0.05},{"t":111.870,"l":-0.03,"h":0.04},
      {"t":111.875,"l":-0.04,"h":0.05},{"t":111.880,"l":-0.06,"h":0.04},{"t":111.885,"l":-0.04,"h":0.05},{"t":111.890,"l":-0.05,"h":0.03},{"t":111.895,"l":-0.05,"h":0.06},
      {"t":111.900,"l":-0.04,"h":0.04},{"t":111.905,"l":-0.03,"h":0.05},{"t":111.910,"l":-0.05,"h":0.03},{"t":111.915,"l":-0.04,"h":0.04},{"t":111.920,"l":-0.05,"h":0.06},
      {"t":111.925,"l":-0.06,"h":0.04},{"t":111.930,"l":-0.03,"h":0.05},{"t":111.935,"l":-0.04,"h":0.03},{"t":111.940,"l":-0.05,"h":0.05},{"t":111.945,"l":-0.04,"h":0.04},
      {"t":111.950,"l":-0.06,"h":0.04},{"t":111.955,"l":-0.04,"h":0.06},{"t":111.960,"l":-0.05,"h":0.03},{"t":111.965,"l":-0.05,"h":0.05},{"t":111.970,"l":-0.03,"h":0.04},
      {"t":111.975,"l":-0.04,"h":0.05},{"t":111.980,"l":-0.06,"h":0.04},{"t":111.985,"l":-0.04,"h":0.05},{"t":111.990,"l":-0.05,"h":0.03},{"t":111.995,"l":-0.05,"h":0.06},
      {"t":112.000,"l":-0.04,"h":0.04},{"t":112.005,"l":-0.03,"h":0.05},{"t":112.010,"l":-0.05,"h":0.03},{"t":112.015,"l":-0.04,"h":0.04},{"t":112.020,"l":-0.05,"h":0.06},
      {"t":112.025,"l":-0.06,"h":0.04},{"t":112.030,"l":-0.03,"h":0.05},{"t":112.035,"l":-0.04,"h":0.03},{"t":112.040,"l":-0.05,"h":0.05},{"t":112.045,"l":-0.04,"h":0.04},
      {"t":112.050,"l":-0.06,"h":0.04},{"t":112.055,"l":-0.04,"h":0.06},{"t":112.060,"l":-0.05,"h":0.03},{"t":112.065,"l":-0.05,"h":0.05},{"t":112.070,"l":-0.03,"h":0.04},
      {"t":112.075,"l":-0.04,"h":0.05},{"t":112.080,"l":-0.06,"h":0.04},{"t":112.085,"l":-0.04,"h":0.05},{"t":112.090,"l":-0.05,"h":0.03},{"t":112.095,"l":-0.05,"h":0.06},
      {"t":112.100,"l":-0.04,"h":0.04},{"t":112.105,"l":-0.03,"h":0.05},{"t":112.110,"l":-0.05,"h":0.03},{"t":112.115,"l":-0.04,"h":0.04},{"t":112.120,"l":-0.05,"h":0.06},
      {"t":112.125,"l":-0.06,"h":0.04},{"t":112.130,"l":-0.03,"h":0.05},{"t":112.135,"l":-0.05,"h":0.05},{"t":112.140,"l":-0.08,"h":0.07},{"t":112.145,"l":-0.09,"h":0.10},
      {"t":112.150,"l":-0.15,"h":0.18},{"t":112.155,"l":-0.19,"h":0.16},{"t":112.160,"l":-0.75,"h":0.35},{"t":112.165,"l":-0.40,"h":0.50},{"t":112.170,"l":-0.36,"h":0.30},
      {"t":112.175,"l":-0.30,"h":0.45},{"t":112.180,"l":-0.32,"h":0.40},{"t":112.185,"l":-0.35,"h":0.62},{"t":112.190,"l":-0.60,"h":0.38},{"t":112.195,"l":-0.40,"h":0.30},
      {"t":112.200,"l":-0.33,"h":0.32},{"t":112.205,"l":-0.30,"h":0.25},{"t":112.210,"l":-0.22,"h":0.20},{"t":112.215,"l":-0.16,"h":0.18},{"t":112.220,"l":-0.15,"h":0.21},
      {"t":112.225,"l":-0.13,"h":0.15},{"t":112.230,"l":-0.14,"h":0.13},{"t":112.235,"l":-0.12,"h":0.11},{"t":112.240,"l":-0.10,"h":0.09},{"t":112.245,"l":-0.08,"h":0.10},
      {"t":112.250,"l":-0.09,"h":0.08},{"t":112.255,"l":-0.11,"h":0.07},{"t":112.260,"l":-0.07,"h":0.09},{"t":112.265,"l":-0.08,"h":0.08},{"t":112.270,"l":-0.07,"h":0.07},
      {"t":112.275,"l":-0.06,"h":0.11},{"t":112.280,"l":-0.07,"h":0.06},{"t":112.285,"l":-0.06,"h":0.05},{"t":112.290,"l":-0.08,"h":0.07},{"t":112.295,"l":-0.05,"h":0.06},
      {"t":112.300,"l":-0.06,"h":0.05},{"t":112.305,"l":-0.04,"h":0.04},{"t":112.310,"l":-0.03,"h":0.05},{"t":112.315,"l":-0.05,"h":0.03},{"t":112.320,"l":-0.04,"h":0.04},
      {"t":112.325,"l":-0.05,"h":0.06},{"t":112.330,"l":-0.06,"h":0.04},{"t":112.335,"l":-0.03,"h":0.05},{"t":112.340,"l":-0.04,"h":0.03},{"t":112.345,"l":-0.05,"h":0.05},
      {"t":112.350,"l":-0.04,"h":0.04},{"t":112.355,"l":-0.06,"h":0.04},{"t":112.360,"l":-0.04,"h":0.06},{"t":112.365,"l":-0.05,"h":0.03},{"t":112.370,"l":-0.05,"h":0.05},
      {"t":112.375,"l":-0.03,"h":0.04},{"t":112.380,"l":-0.04,"h":0.05},{"t":112.385,"l":-0.06,"h":0.04},{"t":112.390,"l":-0.04,"h":0.05},{"t":112.395,"l":-0.05,"h":0.03},
      {"t":112.400,"l":-0.05,"h":0.06},{"t":112.405,"l":-0.04,"h":0.04},{"t":112.410,"l":-0.03,"h":0.05},{"t":112.415,"l":-0.05,"h":0.03},{"t":112.420,"l":-0.04,"h":0.04},
      {"t":112.425,"l":-0.05,"h":0.06},{"t":112.430,"l":-0.06,"h":0.04},{"t":112.435,"l":-0.03,"h":0.05},{"t":112.440,"l":-0.04,"h":0.03},{"t":112.445,"l":-0.05,"h":0.05},
      {"t":112.450,"l":-0.04,"h":0.04},{"t":112.455,"l":-0.06,"h":0.04},{"t":112.460,"l":-0.04,"h":0.06},{"t":112.465,"l":-0.05,"h":0.03},{"t":112.470,"l":-0.05,"h":0.05},
      {"t":112.475,"l":-0.03,"h":0.04},{"t":112.480,"l":-0.04,"h":0.05},{"t":112.485,"l":-0.06,"h":0.04},{"t":112.490,"l":-0.04,"h":0.05},{"t":112.495,"l":-0.05,"h":0.03},
      {"t":112.500,"l":-0.05,"h":0.06},{"t":112.505,"l":-0.04,"h":0.04},{"t":112.510,"l":-0.03,"h":0.05},{"t":112.515,"l":-0.05,"h":0.03},{"t":112.520,"l":-0.04,"h":0.04},
      {"t":112.525,"l":-0.05,"h":0.06},{"t":112.530,"l":-0.06,"h":0.04},{"t":112.535,"l":-0.03,"h":0.05},{"t":112.540,"l":-0.04,"h":0.03},{"t":112.545,"l":-0.05,"h":0.05},
      {"t":112.550,"l":-0.04,"h":0.04},{"t":112.555,"l":-0.06,"h":0.04},{"t":112.560,"l":-0.04,"h":0.06},{"t":112.565,"l":-0.05,"h":0.03},{"t":112.570,"l":-0.05,"h":0.05},
      {"t":112.575,"l":-0.03,"h":0.04},{"t":112.580,"l":-0.04,"h":0.05},{"t":112.585,"l":-0.06,"h":0.04},{"t":112.590,"l":-0.04,"h":0.05},{"t":112.595,"l":-0.05,"h":0.03},
      {"t":112.600,"l":-0.05,"h":0.06},{"t":112.605,"l":-0.04,"h":0.04},{"t":112.610,"l":-0.03,"h":0.05},{"t":112.615,"l":-0.05,"h":0.03},{"t":112.620,"l":-0.04,"h":0.04},
      {"t":112.625,"l":-0.05,"h":0.06},{"t":112.630,"l":-0.06,"h":0.04},{"t":112.635,"l":-0.03,"h":0.05},{"t":112.640,"l":-0.04,"h":0.03},{"t":112.645,"l":-0.05,"h":0.05},
      {"t":112.650,"l":-0.04,"h":0.04},{"t":112.655,"l":-0.06,"h":0.04},{"t":112.660,"l":-0.04,"h":0.06},{"t":112.665,"l":-0.05,"h":0.03},{"t":112.670,"l":-0.05,"h":0.05},
      {"t":112.675,"l":-0.03,"h":0.04},{"t":112.680,"l":-0.04,"h":0.05},{"t":112.685,"l":-0.06,"h":0.04},{"t":112.690,"l":-0.04,"h":0.05},{"t":112.695,"l":-0.05,"h":0.03},
      {"t":112.700,"l":-0.05,"h":0.06},{"t":112.705,"l":-0.04,"h":0.04},{"t":112.710,"l":-0.03,"h":0.05},{"t":112.715,"l":-0.05,"h":0.03},{"t":112.720,"l":-0.04,"h":0.04},
      {"t":112.725,"l":-0.05,"h":0.06},{"t":112.730,"l":-0.06,"h":0.04},{"t":112.735,"l":-0.03,"h":0.05},{"t":112.740,"l":-0.04,"h":0.03},{"t":112.745,"l":-0.05,"h":0.05},
      {"t":112.750,"l":-0.04,"h":0.04},{"t":112.755,"l":-0.06,"h":0.04},{"t":112.760,"l":-0.04,"h":0.06},{"t":112.765,"l":-0.05,"h":0.03},{"t":112.770,"l":-0.05,"h":0.05},
      {"t":112.775,"l":-0.03,"h":0.04},{"t":112.780,"l":-0.04,"h":0.05},{"t":112.785,"l":-0.06,"h":0.04},{"t":112.790,"l":-0.04,"h":0.05},{"t":112.795,"l":-0.05,"h":0.03},
      {"t":112.800,"l":-0.05,"h":0.06}
    ],
    "s5": [
      {"t":111.800,"l":-0.06,"h":0.05},{"t":111.805,"l":-0.05,"h":0.04},{"t":111.810,"l":-0.07,"h":0.06},{"t":111.815,"l":-0.05,"h":0.05},{"t":111.820,"l":-0.06,"h":0.03},
      {"t":111.825,"l":-0.08,"h":0.06},{"t":111.830,"l":-0.05,"h":0.05},{"t":111.835,"l":-0.06,"h":0.04},{"t":111.840,"l":-0.07,"h":0.06},{"t":111.845,"l":-0.04,"h":0.05},
      {"t":111.850,"l":-0.06,"h":0.04},{"t":111.855,"l":-0.07,"h":0.07},{"t":111.860,"l":-0.05,"h":0.05},{"t":111.865,"l":-0.08,"h":0.04},{"t":111.870,"l":-0.06,"h":0.06},
      {"t":111.875,"l":-0.05,"h":0.05},{"t":111.880,"l":-0.07,"h":0.03},{"t":111.885,"l":-0.06,"h":0.06},{"t":111.890,"l":-0.05,"h":0.05},{"t":111.895,"l":-0.07,"h":0.04},
      {"t":111.900,"l":-0.06,"h":0.05},{"t":111.905,"l":-0.05,"h":0.04},{"t":111.910,"l":-0.07,"h":0.06},{"t":111.915,"l":-0.05,"h":0.05},{"t":111.920,"l":-0.06,"h":0.03},
      {"t":111.925,"l":-0.08,"h":0.06},{"t":111.930,"l":-0.05,"h":0.05},{"t":111.935,"l":-0.06,"h":0.04},{"t":111.940,"l":-0.07,"h":0.06},{"t":111.945,"l":-0.04,"h":0.05},
      {"t":111.950,"l":-0.06,"h":0.04},{"t":111.955,"l":-0.07,"h":0.07},{"t":111.960,"l":-0.05,"h":0.05},{"t":111.965,"l":-0.08,"h":0.04},{"t":111.970,"l":-0.06,"h":0.06},
      {"t":111.975,"l":-0.05,"h":0.05},{"t":111.980,"l":-0.07,"h":0.03},{"t":111.985,"l":-0.06,"h":0.06},{"t":111.990,"l":-0.05,"h":0.05},{"t":111.995,"l":-0.07,"h":0.04},
      {"t":112.000,"l":-0.06,"h":0.05},{"t":112.005,"l":-0.05,"h":0.04},{"t":112.010,"l":-0.07,"h":0.06},{"t":112.015,"l":-0.05,"h":0.05},{"t":112.020,"l":-0.06,"h":0.03},
      {"t":112.025,"l":-0.08,"h":0.06},{"t":112.030,"l":-0.05,"h":0.05},{"t":112.035,"l":-0.06,"h":0.04},{"t":112.040,"l":-0.07,"h":0.06},{"t":112.045,"l":-0.04,"h":0.05},
      {"t":112.050,"l":-0.06,"h":0.04},{"t":112.055,"l":-0.07,"h":0.07},{"t":112.060,"l":-0.05,"h":0.05},{"t":112.065,"l":-0.08,"h":0.04},{"t":112.070,"l":-0.06,"h":0.06},
      {"t":112.075,"l":-0.05,"h":0.05},{"t":112.080,"l":-0.07,"h":0.03},{"t":112.085,"l":-0.06,"h":0.06},{"t":112.090,"l":-0.05,"h":0.05},{"t":112.095,"l":-0.07,"h":0.04},
      {"t":112.100,"l":-0.06,"h":0.05},{"t":112.105,"l":-0.05,"h":0.04},{"t":112.110,"l":-0.07,"h":0.06},{"t":112.115,"l":-0.05,"h":0.05},{"t":112.120,"l":-0.07,"h":0.06},
      {"t":112.125,"l":-0.10,"h":0.09},{"t":112.130,"l":-0.12,"h":0.14},{"t":112.135,"l":-0.22,"h":0.20},{"t":112.140,"l":-0.16,"h":0.18},{"t":112.145,"l":-0.20,"h":0.22},
      {"t":112.150,"l":-0.25,"h":0.30},{"t":112.155,"l":-0.40,"h":0.63},{"t":112.160,"l":-0.55,"h":1.14},{"t":112.165,"l":-1.43,"h":0.50},{"t":112.170,"l":-0.80,"h":0.78},
      {"t":112.175,"l":-0.60,"h":0.76},{"t":112.180,"l":-0.45,"h":0.59},{"t":112.185,"l":-0.35,"h":0.45},{"t":112.190,"l":-0.40,"h":0.36},{"t":112.195,"l":-0.49,"h":0.30},
      {"t":112.200,"l":-0.22,"h":0.35},{"t":112.205,"l":-0.20,"h":0.25},{"t":112.210,"l":-0.18,"h":0.28},{"t":112.215,"l":-0.22,"h":0.20},{"t":112.220,"l":-0.16,"h":0.18},
      {"t":112.225,"l":-0.20,"h":0.15},{"t":112.230,"l":-0.28,"h":0.17},{"t":112.235,"l":-0.15,"h":0.14},{"t":112.240,"l":-0.12,"h":0.13},{"t":112.245,"l":-0.11,"h":0.16},
      {"t":112.250,"l":-0.13,"h":0.19},{"t":112.255,"l":-0.10,"h":0.12},{"t":112.260,"l":-0.09,"h":0.14},{"t":112.265,"l":-0.11,"h":0.10},{"t":112.270,"l":-0.08,"h":0.09},
      {"t":112.275,"l":-0.09,"h":0.11},{"t":112.280,"l":-0.10,"h":0.08},{"t":112.285,"l":-0.07,"h":0.09},{"t":112.290,"l":-0.09,"h":0.07},{"t":112.295,"l":-0.08,"h":0.08},
      {"t":112.300,"l":-0.10,"h":0.07},{"t":112.305,"l":-0.07,"h":0.06},{"t":112.310,"l":-0.08,"h":0.08},{"t":112.315,"l":-0.13,"h":0.06},{"t":112.320,"l":-0.07,"h":0.07},
      {"t":112.325,"l":-0.06,"h":0.05},{"t":112.330,"l":-0.05,"h":0.04},{"t":112.335,"l":-0.07,"h":0.06},{"t":112.340,"l":-0.05,"h":0.05},{"t":112.345,"l":-0.06,"h":0.03},
      {"t":112.350,"l":-0.08,"h":0.06},{"t":112.355,"l":-0.05,"h":0.05},{"t":112.360,"l":-0.06,"h":0.04},{"t":112.365,"l":-0.07,"h":0.06},{"t":112.370,"l":-0.04,"h":0.05},
      {"t":112.375,"l":-0.06,"h":0.04},{"t":112.380,"l":-0.07,"h":0.07},{"t":112.385,"l":-0.05,"h":0.05},{"t":112.390,"l":-0.08,"h":0.04},{"t":112.395,"l":-0.06,"h":0.06},
      {"t":112.400,"l":-0.05,"h":0.05},{"t":112.405,"l":-0.07,"h":0.03},{"t":112.410,"l":-0.06,"h":0.06},{"t":112.415,"l":-0.05,"h":0.05},{"t":112.420,"l":-0.07,"h":0.04},
      {"t":112.425,"l":-0.06,"h":0.05},{"t":112.430,"l":-0.05,"h":0.04},{"t":112.435,"l":-0.07,"h":0.06},{"t":112.440,"l":-0.05,"h":0.05},{"t":112.445,"l":-0.06,"h":0.03},
      {"t":112.450,"l":-0.08,"h":0.06},{"t":112.455,"l":-0.05,"h":0.05},{"t":112.460,"l":-0.06,"h":0.04},{"t":112.465,"l":-0.07,"h":0.06},{"t":112.470,"l":-0.04,"h":0.05},
      {"t":112.475,"l":-0.06,"h":0.04},{"t":112.480,"l":-0.07,"h":0.07},{"t":112.485,"l":-0.05,"h":0.05},{"t":112.490,"l":-0.08,"h":0.04},{"t":112.495,"l":-0.06,"h":0.06},
      {"t":112.500,"l":-0.05,"h":0.05},{"t":112.505,"l":-0.07,"h":0.03},{"t":112.510,"l":-0.06,"h":0.06},{"t":112.515,"l":-0.05,"h":0.05},{"t":112.520,"l":-0.07,"h":0.04},
      {"t":112.525,"l":-0.06,"h":0.05},{"t":112.530,"l":-0.05,"h":0.04},{"t":112.535,"l":-0.07,"h":0.06},{"t":112.540,"l":-0.05,"h":0.05},{"t":112.545,"l":-0.06,"h":0.03},
      {"t":112.550,"l":-0.08,"h":0.06},{"t":112.555,"l":-0.05,"h":0.05},{"t":112.560,"l":-0.06,"h":0.04},{"t":112.565,"l":-0.07,"h":0.06},{"t":112.570,"l":-0.04,"h":0.05},
      {"t":112.575,"l":-0.06,"h":0.04},{"t":112.580,"l":-0.07,"h":0.07},{"t":112.585,"l":-0.05,"h":0.05},{"t":112.590,"l":-0.08,"h":0.04},{"t":112.595,"l":-0.06,"h":0.06},
      {"t":112.600,"l":-0.05,"h":0.05},{"t":112.605,"l":-0.07,"h":0.03},{"t":112.610,"l":-0.06,"h":0.06},{"t":112.615,"l":-0.05,"h":0.05},{"t":112.620,"l":-0.07,"h":0.04},
      {"t":112.625,"l":-0.06,"h":0.05},{"t":112.630,"l":-0.05,"h":0.04},{"t":112.635,"l":-0.07,"h":0.06},{"t":112.640,"l":-0.05,"h":0.05},{"t":112.645,"l":-0.06,"h":0.03},
      {"t":112.650,"l":-0.08,"h":0.06},{"t":112.655,"l":-0.05,"h":0.05},{"t":112.660,"l":-0.06,"h":0.04},{"t":112.665,"l":-0.07,"h":0.06},{"t":112.670,"l":-0.04,"h":0.05},
      {"t":112.675,"l":-0.06,"h":0.04},{"t":112.680,"l":-0.07,"h":0.07},{"t":112.685,"l":-0.05,"h":0.05},{"t":112.690,"l":-0.08,"h":0.04},{"t":112.695,"l":-0.06,"h":0.06},
      {"t":112.700,"l":-0.05,"h":0.05},{"t":112.705,"l":-0.07,"h":0.03},{"t":112.710,"l":-0.06,"h":0.06},{"t":112.715,"l":-0.05,"h":0.05},{"t":112.720,"l":-0.07,"h":0.04},
      {"t":112.725,"l":-0.06,"h":0.05},{"t":112.730,"l":-0.05,"h":0.04},{"t":112.735,"l":-0.07,"h":0.06},{"t":112.740,"l":-0.05,"h":0.05},{"t":112.745,"l":-0.06,"h":0.03},
      {"t":112.750,"l":-0.08,"h":0.06},{"t":112.755,"l":-0.05,"h":0.05},{"t":112.760,"l":-0.06,"h":0.04},{"t":112.765,"l":-0.07,"h":0.06},{"t":112.770,"l":-0.04,"h":0.05},
      {"t":112.775,"l":-0.06,"h":0.04},{"t":112.780,"l":-0.07,"h":0.07},{"t":112.785,"l":-0.05,"h":0.05},{"t":112.790,"l":-0.08,"h":0.04},{"t":112.795,"l":-0.06,"h":0.06},
      {"t":112.800,"l":-0.05,"h":0.05}
    ],
    "s6": [
      {"t":111.800,"l":-0.05,"h":0.04},{"t":111.805,"l":-0.04,"h":0.05},{"t":111.810,"l":-0.06,"h":0.03},{"t":111.815,"l":-0.05,"h":0.04},{"t":111.820,"l":-0.06,"h":0.06},
      {"t":111.825,"l":-0.07,"h":0.04},{"t":111.830,"l":-0.04,"h":0.05},{"t":111.835,"l":-0.05,"h":0.03},{"t":111.840,"l":-0.06,"h":0.05},{"t":111.845,"l":-0.05,"h":0.04},
      {"t":111.850,"l":-0.07,"h":0.04},{"t":111.855,"l":-0.05,"h":0.06},{"t":111.860,"l":-0.06,"h":0.03},{"t":111.865,"l":-0.06,"h":0.05},{"t":111.870,"l":-0.04,"h":0.04},
      {"t":111.875,"l":-0.05,"h":0.05},{"t":111.880,"l":-0.07,"h":0.04},{"t":111.885,"l":-0.05,"h":0.05},{"t":111.890,"l":-0.06,"h":0.03},{"t":111.895,"l":-0.06,"h":0.06},
      {"t":111.900,"l":-0.05,"h":0.04},{"t":111.905,"l":-0.04,"h":0.05},{"t":111.910,"l":-0.06,"h":0.03},{"t":111.915,"l":-0.05,"h":0.04},{"t":111.920,"l":-0.06,"h":0.06},
      {"t":111.925,"l":-0.07,"h":0.04},{"t":111.930,"l":-0.04,"h":0.05},{"t":111.935,"l":-0.05,"h":0.03},{"t":111.940,"l":-0.06,"h":0.05},{"t":111.945,"l":-0.05,"h":0.04},
      {"t":111.950,"l":-0.07,"h":0.04},{"t":111.955,"l":-0.05,"h":0.06},{"t":111.960,"l":-0.06,"h":0.03},{"t":111.965,"l":-0.06,"h":0.05},{"t":111.970,"l":-0.04,"h":0.04},
      {"t":111.975,"l":-0.05,"h":0.05},{"t":111.980,"l":-0.07,"h":0.04},{"t":111.985,"l":-0.05,"h":0.05},{"t":111.990,"l":-0.06,"h":0.03},{"t":111.995,"l":-0.06,"h":0.06},
      {"t":112.000,"l":-0.05,"h":0.04},{"t":112.005,"l":-0.04,"h":0.05},{"t":112.010,"l":-0.06,"h":0.03},{"t":112.015,"l":-0.05,"h":0.04},{"t":112.020,"l":-0.06,"h":0.06},
      {"t":112.025,"l":-0.07,"h":0.04},{"t":112.030,"l":-0.04,"h":0.05},{"t":112.035,"l":-0.05,"h":0.03},{"t":112.040,"l":-0.06,"h":0.05},{"t":112.045,"l":-0.05,"h":0.04},
      {"t":112.050,"l":-0.07,"h":0.04},{"t":112.055,"l":-0.05,"h":0.06},{"t":112.060,"l":-0.06,"h":0.03},{"t":112.065,"l":-0.06,"h":0.05},{"t":112.070,"l":-0.04,"h":0.04},
      {"t":112.075,"l":-0.05,"h":0.05},{"t":112.080,"l":-0.07,"h":0.04},{"t":112.085,"l":-0.05,"h":0.05},{"t":112.090,"l":-0.06,"h":0.03},{"t":112.095,"l":-0.06,"h":0.06},
      {"t":112.100,"l":-0.05,"h":0.04},{"t":112.105,"l":-0.04,"h":0.05},{"t":112.110,"l":-0.06,"h":0.03},{"t":112.115,"l":-0.05,"h":0.04},{"t":112.120,"l":-0.06,"h":0.06},
      {"t":112.125,"l":-0.07,"h":0.04},{"t":112.130,"l":-0.04,"h":0.05},{"t":112.135,"l":-0.05,"h":0.04},{"t":112.140,"l":-0.06,"h":0.05},{"t":112.145,"l":-0.08,"h":0.15},
      {"t":112.150,"l":-0.10,"h":0.12},{"t":112.155,"l":-0.25,"h":0.38},{"t":112.160,"l":-0.44,"h":0.30},{"t":112.165,"l":-0.78,"h":0.35},{"t":112.170,"l":-0.78,"h":0.60},
      {"t":112.175,"l":-0.45,"h":0.99},{"t":112.180,"l":-0.35,"h":0.69},{"t":112.185,"l":-0.40,"h":0.45},{"t":112.190,"l":-0.30,"h":0.29},{"t":112.195,"l":-0.58,"h":0.25},
      {"t":112.200,"l":-0.30,"h":0.28},{"t":112.205,"l":-0.22,"h":0.15},{"t":112.210,"l":-0.20,"h":0.18},{"t":112.215,"l":-0.25,"h":0.14},{"t":112.220,"l":-0.28,"h":0.12},
      {"t":112.225,"l":-0.15,"h":0.15},{"t":112.230,"l":-0.12,"h":0.13},{"t":112.235,"l":-0.11,"h":0.10},{"t":112.240,"l":-0.09,"h":0.11},{"t":112.245,"l":-0.10,"h":0.09},
      {"t":112.250,"l":-0.08,"h":0.12},{"t":112.255,"l":-0.09,"h":0.08},{"t":112.260,"l":-0.07,"h":0.09},{"t":112.265,"l":-0.08,"h":0.07},{"t":112.270,"l":-0.06,"h":0.10},
      {"t":112.275,"l":-0.07,"h":0.13},{"t":112.280,"l":-0.08,"h":0.07},{"t":112.285,"l":-0.06,"h":0.06},{"t":112.290,"l":-0.07,"h":0.05},{"t":112.295,"l":-0.05,"h":0.04},
      {"t":112.300,"l":-0.04,"h":0.05},{"t":112.305,"l":-0.06,"h":0.03},{"t":112.310,"l":-0.05,"h":0.04},{"t":112.315,"l":-0.06,"h":0.06},{"t":112.320,"l":-0.07,"h":0.04},
      {"t":112.325,"l":-0.04,"h":0.05},{"t":112.330,"l":-0.05,"h":0.03},{"t":112.335,"l":-0.06,"h":0.05},{"t":112.340,"l":-0.05,"h":0.04},{"t":112.345,"l":-0.07,"h":0.04},
      {"t":112.350,"l":-0.05,"h":0.06},{"t":112.355,"l":-0.06,"h":0.03},{"t":112.360,"l":-0.06,"h":0.05},{"t":112.365,"l":-0.04,"h":0.04},{"t":112.370,"l":-0.05,"h":0.05},
      {"t":112.375,"l":-0.07,"h":0.04},{"t":112.380,"l":-0.05,"h":0.05},{"t":112.385,"l":-0.06,"h":0.03},{"t":112.390,"l":-0.06,"h":0.06},{"t":112.395,"l":-0.05,"h":0.04},
      {"t":112.400,"l":-0.04,"h":0.05},{"t":112.405,"l":-0.06,"h":0.03},{"t":112.410,"l":-0.05,"h":0.04},{"t":112.415,"l":-0.06,"h":0.06},{"t":112.420,"l":-0.07,"h":0.04},
      {"t":112.425,"l":-0.04,"h":0.05},{"t":112.430,"l":-0.05,"h":0.03},{"t":112.435,"l":-0.06,"h":0.05},{"t":112.440,"l":-0.05,"h":0.04},{"t":112.445,"l":-0.07,"h":0.04},
      {"t":112.450,"l":-0.05,"h":0.06},{"t":112.455,"l":-0.06,"h":0.03},{"t":112.460,"l":-0.06,"h":0.05},{"t":112.465,"l":-0.04,"h":0.04},{"t":112.470,"l":-0.05,"h":0.05},
      {"t":112.475,"l":-0.07,"h":0.04},{"t":112.480,"l":-0.05,"h":0.05},{"t":112.485,"l":-0.06,"h":0.03},{"t":112.490,"l":-0.06,"h":0.06},{"t":112.495,"l":-0.05,"h":0.04},
      {"t":112.500,"l":-0.04,"h":0.05},{"t":112.505,"l":-0.06,"h":0.03},{"t":112.510,"l":-0.05,"h":0.04},{"t":112.515,"l":-0.06,"h":0.06},{"t":112.520,"l":-0.07,"h":0.04},
      {"t":112.525,"l":-0.04,"h":0.05},{"t":112.530,"l":-0.05,"h":0.03},{"t":112.535,"l":-0.06,"h":0.05},{"t":112.540,"l":-0.05,"h":0.04},{"t":112.545,"l":-0.07,"h":0.04},
      {"t":112.550,"l":-0.05,"h":0.06},{"t":112.555,"l":-0.06,"h":0.03},{"t":112.560,"l":-0.06,"h":0.05},{"t":112.565,"l":-0.04,"h":0.04},{"t":112.570,"l":-0.05,"h":0.05},
      {"t":112.575,"l":-0.07,"h":0.04},{"t":112.580,"l":-0.05,"h":0.05},{"t":112.585,"l":-0.06,"h":0.03},{"t":112.590,"l":-0.06,"h":0.06},{"t":112.595,"l":-0.05,"h":0.04},
      {"t":112.600,"l":-0.04,"h":0.05},{"t":112.605,"l":-0.06,"h":0.03},{"t":112.610,"l":-0.05,"h":0.04},{"t":112.615,"l":-0.06,"h":0.06},{"t":112.620,"l":-0.07,"h":0.04},
      {"t":112.625,"l":-0.04,"h":0.05},{"t":112.630,"l":-0.05,"h":0.03},{"t":112.635,"l":-0.06,"h":0.05},{"t":112.640,"l":-0.05,"h":0.04},{"t":112.645,"l":-0.07,"h":0.04},
      {"t":112.650,"l":-0.05,"h":0.06},{"t":112.655,"l":-0.06,"h":0.03},{"t":112.660,"l":-0.06,"h":0.05},{"t":112.665,"l":-0.04,"h":0.04},{"t":112.670,"l":-0.05,"h":0.05},
      {"t":112.675,"l":-0.07,"h":0.04},{"t":112.680,"l":-0.05,"h":0.05},{"t":112.685,"l":-0.06,"h":0.03},{"t":112.690,"l":-0.06,"h":0.06},{"t":112.695,"l":-0.05,"h":0.04},
      {"t":112.700,"l":-0.04,"h":0.05},{"t":112.705,"l":-0.06,"h":0.03},{"t":112.710,"l":-0.05,"h":0.04},{"t":112.715,"l":-0.06,"h":0.06},{"t":112.720,"l":-0.07,"h":0.04},
      {"t":112.725,"l":-0.04,"h":0.05},{"t":112.730,"l":-0.05,"h":0.03},{"t":112.735,"l":-0.06,"h":0.05},{"t":112.740,"l":-0.05,"h":0.04},{"t":112.745,"l":-0.07,"h":0.04},
      {"t":112.750,"l":-0.05,"h":0.06},{"t":112.755,"l":-0.06,"h":0.03},{"t":112.760,"l":-0.06,"h":0.05},{"t":112.765,"l":-0.04,"h":0.04},{"t":112.770,"l":-0.05,"h":0.05},
      {"t":112.775,"l":-0.07,"h":0.04},{"t":112.780,"l":-0.05,"h":0.05},{"t":112.785,"l":-0.06,"h":0.03},{"t":112.790,"l":-0.06,"h":0.06},{"t":112.795,"l":-0.05,"h":0.04},
      {"t":112.800,"l":-0.04,"h":0.05}
    ],
    "ann": [
      {"p":"A1","k":"m","s":"","t":112.405,"a":2.18,"v":"=1.86"},
      {"p":"A1","k":"q","s":"A′","t":111.930,"a":0.80,"v":"=0.27"},
      {"p":"A1","k":"q","s":"A″","t":112.534,"a":0.73,"v":"=0.27"},
      {"p":"A3","k":"m","s":"","t":111.984,"a":1.39,"v":"=0.76"},
      {"p":"A3","k":"q","s":"A′","t":111.925,"a":0.33,"v":"=0.08"},
      {"p":"A3","k":"q","s":"A″","t":112.541,"a":0.53,"v":"=0.08"},
      {"p":"A5","k":"m","s":"","t":112.391,"a":1.39,"v":"=1.14"},
      {"p":"A5","k":"q","s":"A′","t":111.924,"a":0.28,"v":"=0.06"},
      {"p":"A5","k":"q","s":"A″","t":112.505,"a":0.39,"v":"=0.06"},
      {"p":"A2","k":"m","s":"","t":112.449,"a":1.47,"v":"=0.86"},
      {"p":"A2","k":"q","s":"A′","t":111.933,"a":0.497,"v":"=0.18"},
      {"p":"A2","k":"q","s":"A″","t":112.499,"a":0.497,"v":"=0.18"},
      {"p":"A4","k":"m","s":"","t":112.035,"a":1.0,"v":"=0.63"},
      {"p":"A4","k":"q","s":"A′","t":111.933,"a":0.205,"v":"=0.04"},
      {"p":"A4","k":"q","s":"A″","t":112.518,"a":0.255,"v":"=0.04"},
      {"p":"A6","k":"m","s":"","t":112.007,"a":1.34,"v":"=1.00"},
      {"p":"A6","k":"q","s":"A′","t":111.931,"a":0.42,"v":"=0.06"},
      {"p":"A6","k":"q","s":"A″","t":112.543,"a":0.42,"v":"=0.06"}
    ],
    "lab": [
      {"p":"A1","t":112.756,"a":2.08,"txt":"A1"},
      {"p":"A3","t":112.755,"a":1.39,"txt":"A3"},
      {"p":"A5","t":112.748,"a":1.39,"txt":"A5"},
      {"p":"A2","t":111.946,"a":1.378,"txt":"A2"},
      {"p":"A4","t":112.757,"a":1.04,"txt":"A4"},
      {"p":"A6","t":112.751,"a":1.378,"txt":"A6"}
    ],
    "cjk": [
      {"p":"A1","t":112.506,"a":-1.21,"txt":"突加基础"},
      {"p":"A1","t":112.507,"a":-2.23,"txt":"冲击载荷时刻"},
      {"p":"A3","t":112.43,"a":-0.79,"txt":"突加基础"},
      {"p":"A3","t":112.43,"a":-1.507,"txt":"冲击载荷时刻"},
      {"p":"A5","t":112.51,"a":-0.716,"txt":"突加基础"},
      {"p":"A5","t":112.512,"a":-1.39,"txt":"冲击载荷时刻"},
      {"p":"A2","t":112.501,"a":-0.78,"txt":"突加基础"},
      {"p":"A2","t":112.502,"a":-1.48,"txt":"冲击载荷时刻"},
      {"p":"A4","t":112.502,"a":-0.584,"txt":"突加基础"},
      {"p":"A4","t":112.503,"a":-1.111,"txt":"冲击载荷时刻"},
      {"p":"A6","t":112.474,"a":-0.778,"txt":"突加基础"},
      {"p":"A6","t":112.475,"a":-1.481,"txt":"冲击载荷时刻"}
    ],
    "arr": [
      {"p":"A1","t":112.235,"a":2.60,"t2":112.215,"a2":2.02,"ang":205},
      {"p":"A1","t":112.269,"a":-1.68,"t2":112.163,"a2":-0.74,"ang":309},
      {"p":"A3","t":112.118,"a":1.282,"t2":112.154,"a2":0.93,"ang":140},
      {"p":"A3","t":112.227,"a":-1.025,"t2":112.157,"a2":-0.42,"ang":320},
      {"p":"A5","t":112.2165,"a":1.494,"t2":112.179,"a2":1.29,"ang":233},
      {"p":"A5","t":112.295,"a":-0.928,"t2":112.148,"a2":-0.39,"ang":298},
      {"p":"A2","t":112.264,"a":1.546,"t2":112.228,"a2":1.26,"ang":227},
      {"p":"A2","t":112.283,"a":-1.028,"t2":112.166,"a2":-0.58,"ang":298},
      {"p":"A4","t":112.104,"a":0.888,"t2":112.176,"a2":0.69,"ang":117},
      {"p":"A4","t":112.294,"a":-0.744,"t2":112.172,"a2":-0.23,"ang":307},
      {"p":"A6","t":112.053,"a":1.192,"t2":112.161,"a2":1.04,"ang":101},
      {"p":"A6","t":112.261,"a":-0.992,"t2":112.12,"a2":-0.21,"ang":307}
    ],
    "thr": [
      {"p":"A1","a":0.33},{"p":"A3","a":0.09},{"p":"A5","a":0.067},
      {"p":"A2","a":0.2},{"p":"A4","a":0.05},{"p":"A6","a":0.06}
    ]
  },
  "columns": 3,
  "spacing": {"row": 362, "column": 340},
  "bounds": "flush",
  "concat": [
    {
      "width": 878, "height": 464,
      "layer": [
        {"layer": [
          {"data": {"name": "s1"}, "mark": {"type": "rule", "color": "#ff0000", "strokeWidth": 4.4},
           "encoding": {
             "x": {"field": "t", "type": "quantitative", "title": "时间/s", "scale": {"domain": [111.8, 112.8], "nice": false, "zero": false},
                   "axis": {"values": [111.8,111.85,111.9,111.95,112,112.05,112.1,112.15,112.2,112.25,112.3,112.35,112.4,112.45,112.5,112.55,112.6,112.65,112.7,112.75,112.8],
                            "tickSize": {"condition": {"test": "abs(datum.value*10-round(datum.value*10))<0.01", "value": -22}, "value": -12},
                            "labelExpr": "abs((datum.value-111.8)*2-round((datum.value-111.8)*2))<0.001 ? format(datum.value,'.1f') : ''"}},
             "y": {"field": "l", "type": "quantitative", "title": "加速度A/g", "scale": {"domain": [-3, 3], "nice": false, "zero": false},
                   "axis": {"values": [-3,-2.5,-2,-1.5,-1,-0.5,0,0.5,1,1.5,2,2.5,3], "tickSize": -20,
                            "labelExpr": "abs(datum.value-round(datum.value))<0.01 ? format(datum.value,'d') : ''"}},
             "y2": {"field": "h"}}},
          {"data": {"name": "arr"}, "transform": [{"filter": "datum.p=='A1'"}], "mark": {"type": "rule", "color": "#0000ff", "strokeWidth": 4.5},
           "encoding": {"x": {"field": "t", "type": "quantitative"}, "x2": {"field": "t2"}, "y": {"field": "a", "type": "quantitative"}, "y2": {"field": "a2"}}},
          {"data": {"name": "arr"}, "transform": [{"filter": "datum.p=='A1'"}], "mark": {"type": "point", "shape": "triangle", "filled": true, "color": "#0000ff", "size": 1800, "opacity": 1},
           "encoding": {"x": {"field": "t2", "type": "quantitative"}, "y": {"field": "a2", "type": "quantitative"}, "angle": {"field": "ang", "type": "quantitative", "scale": null}}},
          {"data": {"name": "ann"}, "transform": [{"filter": "datum.p=='A1' && datum.k=='q'"}], "mark": {"type": "text", "fontStyle": "italic", "align": "right"},
           "encoding": {"x": {"field": "t", "type": "quantitative"}, "y": {"field": "a", "type": "quantitative"}, "text": {"field": "s"}}},
          {"data": {"name": "ann"}, "transform": [{"filter": "datum.p=='A1' && datum.k=='m'"}], "mark": {"type": "text", "fontStyle": "italic", "align": "right", "dx": -69},
           "encoding": {"x": {"field": "t", "type": "quantitative"}, "y": {"field": "a", "type": "quantitative"}, "text": {"value": "A"}}},
          {"data": {"name": "ann"}, "transform": [{"filter": "datum.p=='A1' && datum.k=='m'"}], "mark": {"type": "text", "fontSize": 40, "align": "right", "dy": 11},
           "encoding": {"x": {"field": "t", "type": "quantitative"}, "y": {"field": "a", "type": "quantitative"}, "text": {"value": "max"}}},
          {"data": {"name": "ann"}, "transform": [{"filter": "datum.p=='A1'"}], "mark": {"type": "text", "align": "left"},
           "encoding": {"x": {"field": "t", "type": "quantitative"}, "y": {"field": "a", "type": "quantitative"}, "text": {"field": "v"}}},
          {"data": {"name": "ann"}, "transform": [{"filter": "datum.p=='A1'"}], "mark": {"type": "text", "fontStyle": "italic", "align": "left", "dx": 153},
           "encoding": {"x": {"field": "t", "type": "quantitative"}, "y": {"field": "a", "type": "quantitative"}, "text": {"value": "g"}}},
          {"data": {"name": "lab"}, "transform": [{"filter": "datum.p=='A1'"}], "mark": {"type": "text", "align": "right"},
           "encoding": {"x": {"field": "t", "type": "quantitative"}, "y": {"field": "a", "type": "quantitative"}, "text": {"field": "txt"}}},
          {"data": {"name": "cjk"}, "transform": [{"filter": "datum.p=='A1'"}], "mark": {"type": "text", "font": "Noto Sans CJK SC", "fontSize": 66, "align": "center", "baseline": "middle"},
           "encoding": {"x": {"field": "t", "type": "quantitative"}, "y": {"field": "a", "type": "quantitative"}, "text": {"field": "txt"}}}
        ]},
        {"data": {"name": "thr"}, "transform": [{"filter": "datum.p=='A1'"}], "mark": {"type": "rule", "color": "#0000ff", "strokeWidth": 5, "strokeDash": [22, 13]},
         "encoding": {"y": {"field": "a", "type": "quantitative", "axis": {"orient": "right", "values": [-3,-2.5,-2,-1.5,-1,-0.5,0,0.5,1,1.5,2,2.5,3], "tickSize": -20, "labels": false, "title": null}}}}
      ],
      "resolve": {"axis": {"y": "independent"}}
    },
    {
      "width": 878, "height": 464,
      "title": {"text": "(a) 垂直方向测点加速度瞬态响应", "orient": "bottom", "anchor": "middle", "frame": "group", "offset": 45, "baseline": "top", "dx": -27},
      "layer": [
        {"layer": [
          {"data": {"name": "s3"}, "mark": {"type": "rule", "color": "#ff0000", "strokeWidth": 4.4},
           "encoding": {
             "x": {"field": "t", "type": "quantitative", "title": "时间/s", "scale": {"domain": [111.8, 112.8], "nice": false, "zero": false},
                   "axis": {"values": [111.8,111.85,111.9,111.95,112,112.05,112.1,112.15,112.2,112.25,112.3,112.35,112.4,112.45,112.5,112.55,112.6,112.65,112.7,112.75,112.8],
                            "tickSize": {"condition": {"test": "abs(datum.value*10-round(datum.value*10))<0.01", "value": -22}, "value": -12},
                            "labelExpr": "abs((datum.value-111.8)*2-round((datum.value-111.8)*2))<0.001 ? format(datum.value,'.1f') : ''"}},
             "y": {"field": "l", "type": "quantitative", "title": "加速度A/g", "scale": {"domain": [-2, 2], "nice": false, "zero": false},
                   "axis": {"values": [-2,-1.8,-1.6,-1.4,-1.2,-1,-0.8,-0.6,-0.4,-0.2,0,0.2,0.4,0.6,0.8,1,1.2,1.4,1.6,1.8,2],
                            "tickSize": {"condition": {"test": "abs(datum.value-round(datum.value))<0.01", "value": -20}, "value": -12},
                            "labelExpr": "abs(datum.value-round(datum.value))<0.01 ? format(datum.value,'d') : ''"}},
             "y2": {"field": "h"}}},
          {"data": {"name": "arr"}, "transform": [{"filter": "datum.p=='A3'"}], "mark": {"type": "rule", "color": "#0000ff", "strokeWidth": 4.5},
           "encoding": {"x": {"field": "t", "type": "quantitative"}, "x2": {"field": "t2"}, "y": {"field": "a", "type": "quantitative"}, "y2": {"field": "a2"}}},
          {"data": {"name": "arr"}, "transform": [{"filter": "datum.p=='A3'"}], "mark": {"type": "point", "shape": "triangle", "filled": true, "color": "#0000ff", "size": 1800, "opacity": 1},
           "encoding": {"x": {"field": "t2", "type": "quantitative"}, "y": {"field": "a2", "type": "quantitative"}, "angle": {"field": "ang", "type": "quantitative", "scale": null}}},
          {"data": {"name": "ann"}, "transform": [{"filter": "datum.p=='A3' && datum.k=='q'"}], "mark": {"type": "text", "fontStyle": "italic", "align": "right"},
           "encoding": {"x": {"field": "t", "type": "quantitative"}, "y": {"field": "a", "type": "quantitative"}, "text": {"field": "s"}}},
          {"data": {"name": "ann"}, "transform": [{"filter": "datum.p=='A3' && datum.k=='m'"}], "mark": {"type": "text", "fontStyle": "italic", "align": "right", "dx": -69},
           "encoding": {"x": {"field": "t", "type": "quantitative"}, "y": {"field": "a", "type": "quantitative"}, "text": {"value": "A"}}},
          {"data": {"name": "ann"}, "transform": [{"filter": "datum.p=='A3' && datum.k=='m'"}], "mark": {"type": "text", "fontSize": 40, "align": "right", "dy": 11},
           "encoding": {"x": {"field": "t", "type": "quantitative"}, "y": {"field": "a", "type": "quantitative"}, "text": {"value": "max"}}},
          {"data": {"name": "ann"}, "transform": [{"filter": "datum.p=='A3'"}], "mark": {"type": "text", "align": "left"},
           "encoding": {"x": {"field": "t", "type": "quantitative"}, "y": {"field": "a", "type": "quantitative"}, "text": {"field": "v"}}},
          {"data": {"name": "ann"}, "transform": [{"filter": "datum.p=='A3'"}], "mark": {"type": "text", "fontStyle": "italic", "align": "left", "dx": 153},
           "encoding": {"x": {"field": "t", "type": "quantitative"}, "y": {"field": "a", "type": "quantitative"}, "text": {"value": "g"}}},
          {"data": {"name": "lab"}, "transform": [{"filter": "datum.p=='A3'"}], "mark": {"type": "text", "align": "right"},
           "encoding": {"x": {"field": "t", "type": "quantitative"}, "y": {"field": "a", "type": "quantitative"}, "text": {"field": "txt"}}},
          {"data": {"name": "cjk"}, "transform": [{"filter": "datum.p=='A3'"}], "mark": {"type": "text", "font": "Noto Sans CJK SC", "fontSize": 66, "align": "center", "baseline": "middle"},
           "encoding": {"x": {"field": "t", "type": "quantitative"}, "y": {"field": "a", "type": "quantitative"}, "text": {"field": "txt"}}}
        ]},
        {"data": {"name": "thr"}, "transform": [{"filter": "datum.p=='A3'"}], "mark": {"type": "rule", "color": "#0000ff", "strokeWidth": 5, "strokeDash": [22, 13]},
         "encoding": {"y": {"field": "a", "type": "quantitative", "axis": {"orient": "right", "values": [-2,-1.8,-1.6,-1.4,-1.2,-1,-0.8,-0.6,-0.4,-0.2,0,0.2,0.4,0.6,0.8,1,1.2,1.4,1.6,1.8,2], "tickSize": {"condition": {"test": "abs(datum.value-round(datum.value))<0.01", "value": -20}, "value": -12}, "labels": false, "title": null}}}}
      ],
      "resolve": {"axis": {"y": "independent"}}
    },
    {
      "width": 878, "height": 464,
      "layer": [
        {"layer": [
          {"data": {"name": "s5"}, "mark": {"type": "rule", "color": "#ff0000", "strokeWidth": 4.4},
           "encoding": {
             "x": {"field": "t", "type": "quantitative", "title": "时间/s", "scale": {"domain": [111.8, 112.8], "nice": false, "zero": false},
                   "axis": {"values": [111.8,111.85,111.9,111.95,112,112.05,112.1,112.15,112.2,112.25,112.3,112.35,112.4,112.45,112.5,112.55,112.6,112.65,112.7,112.75,112.8],
                            "tickSize": {"condition": {"test": "abs(datum.value*10-round(datum.value*10))<0.01", "value": -22}, "value": -12},
                            "labelExpr": "abs((datum.value-111.8)*2-round((datum.value-111.8)*2))<0.001 ? format(datum.value,'.1f') : ''"}},
             "y": {"field": "l", "type": "quantitative", "title": "加速度A/g", "scale": {"domain": [-2, 2], "nice": false, "zero": false},
                   "axis": {"values": [-2,-1.8,-1.6,-1.4,-1.2,-1,-0.8,-0.6,-0.4,-0.2,0,0.2,0.4,0.6,0.8,1,1.2,1.4,1.6,1.8,2],
                            "tickSize": {"condition": {"test": "abs(datum.value-round(datum.value))<0.01", "value": -20}, "value": -12},
                            "labelExpr": "abs(datum.value-round(datum.value))<0.01 ? format(datum.value,'d') : ''"}},
             "y2": {"field": "h"}}},
          {"data": {"name": "arr"}, "transform": [{"filter": "datum.p=='A5'"}], "mark": {"type": "rule", "color": "#0000ff", "strokeWidth": 4.5},
           "encoding": {"x": {"field": "t", "type": "quantitative"}, "x2": {"field": "t2"}, "y": {"field": "a", "type": "quantitative"}, "y2": {"field": "a2"}}},
          {"data": {"name": "arr"}, "transform": [{"filter": "datum.p=='A5'"}], "mark": {"type": "point", "shape": "triangle", "filled": true, "color": "#0000ff", "size": 1800, "opacity": 1},
           "encoding": {"x": {"field": "t2", "type": "quantitative"}, "y": {"field": "a2", "type": "quantitative"}, "angle": {"field": "ang", "type": "quantitative", "scale": null}}},
          {"data": {"name": "ann"}, "transform": [{"filter": "datum.p=='A5' && datum.k=='q'"}], "mark": {"type": "text", "fontStyle": "italic", "align": "right"},
           "encoding": {"x": {"field": "t", "type": "quantitative"}, "y": {"field": "a", "type": "quantitative"}, "text": {"field": "s"}}},
          {"data": {"name": "ann"}, "transform": [{"filter": "datum.p=='A5' && datum.k=='m'"}], "mark": {"type": "text", "fontStyle": "italic", "align": "right", "dx": -69},
           "encoding": {"x": {"field": "t", "type": "quantitative"}, "y": {"field": "a", "type": "quantitative"}, "text": {"value": "A"}}},
          {"data": {"name": "ann"}, "transform": [{"filter": "datum.p=='A5' && datum.k=='m'"}], "mark": {"type": "text", "fontSize": 40, "align": "right", "dy": 11},
           "encoding": {"x": {"field": "t", "type": "quantitative"}, "y": {"field": "a", "type": "quantitative"}, "text": {"value": "max"}}},
          {"data": {"name": "ann"}, "transform": [{"filter": "datum.p=='A5'"}], "mark": {"type": "text", "align": "left"},
           "encoding": {"x": {"field": "t", "type": "quantitative"}, "y": {"field": "a", "type": "quantitative"}, "text": {"field": "v"}}},
          {"data": {"name": "ann"}, "transform": [{"filter": "datum.p=='A5'"}], "mark": {"type": "text", "fontStyle": "italic", "align": "left", "dx": 153},
           "encoding": {"x": {"field": "t", "type": "quantitative"}, "y": {"field": "a", "type": "quantitative"}, "text": {"value": "g"}}},
          {"data": {"name": "lab"}, "transform": [{"filter": "datum.p=='A5'"}], "mark": {"type": "text", "align": "right"},
           "encoding": {"x": {"field": "t", "type": "quantitative"}, "y": {"field": "a", "type": "quantitative"}, "text": {"field": "txt"}}},
          {"data": {"name": "cjk"}, "transform": [{"filter": "datum.p=='A5'"}], "mark": {"type": "text", "font": "Noto Sans CJK SC", "fontSize": 66, "align": "center", "baseline": "middle"},
           "encoding": {"x": {"field": "t", "type": "quantitative"}, "y": {"field": "a", "type": "quantitative"}, "text": {"field": "txt"}}}
        ]},
        {"data": {"name": "thr"}, "transform": [{"filter": "datum.p=='A5'"}], "mark": {"type": "rule", "color": "#0000ff", "strokeWidth": 5, "strokeDash": [22, 13]},
         "encoding": {"y": {"field": "a", "type": "quantitative", "axis": {"orient": "right", "values": [-2,-1.8,-1.6,-1.4,-1.2,-1,-0.8,-0.6,-0.4,-0.2,0,0.2,0.4,0.6,0.8,1,1.2,1.4,1.6,1.8,2], "tickSize": {"condition": {"test": "abs(datum.value-round(datum.value))<0.01", "value": -20}, "value": -12}, "labels": false, "title": null}}}}
      ],
      "resolve": {"axis": {"y": "independent"}}
    },
    {
      "width": 878, "height": 464,
      "layer": [
        {"layer": [
          {"data": {"name": "s2"}, "mark": {"type": "rule", "color": "#ff0000", "strokeWidth": 4.4},
           "encoding": {
             "x": {"field": "t", "type": "quantitative", "title": "时间/s", "scale": {"domain": [111.8, 112.8], "nice": false, "zero": false},
                   "axis": {"values": [111.8,111.85,111.9,111.95,112,112.05,112.1,112.15,112.2,112.25,112.3,112.35,112.4,112.45,112.5,112.55,112.6,112.65,112.7,112.75,112.8],
                            "tickSize": {"condition": {"test": "abs(datum.value*10-round(datum.value*10))<0.01", "value": -22}, "value": -12},
                            "labelExpr": "abs((datum.value-111.8)*2-round((datum.value-111.8)*2))<0.001 ? format(datum.value,'.1f') : ''"}},
             "y": {"field": "l", "type": "quantitative", "title": "加速度A/g", "scale": {"domain": [-2, 2], "nice": false, "zero": false},
                   "axis": {"values": [-2,-1.8,-1.6,-1.4,-1.2,-1,-0.8,-0.6,-0.4,-0.2,0,0.2,0.4,0.6,0.8,1,1.2,1.4,1.6,1.8,2],
                            "tickSize": {"condition": {"test": "abs(datum.value-round(datum.value))<0.01", "value": -20}, "value": -12},
                            "labelExpr": "abs(datum.value-round(datum.value))<0.01 ? format(datum.value,'d') : ''"}},
             "y2": {"field": "h"}}},
          {"data": {"name": "arr"}, "transform": [{"filter": "datum.p=='A2'"}], "mark": {"type": "rule", "color": "#0000ff", "strokeWidth": 4.5},
           "encoding": {"x": {"field": "t", "type": "quantitative"}, "x2": {"field": "t2"}, "y": {"field": "a", "type": "quantitative"}, "y2": {"field": "a2"}}},
          {"data": {"name": "arr"}, "transform": [{"filter": "datum.p=='A2'"}], "mark": {"type": "point", "shape": "triangle", "filled": true, "color": "#0000ff", "size": 1800, "opacity": 1},
           "encoding": {"x": {"field": "t2", "type": "quantitative"}, "y": {"field": "a2", "type": "quantitative"}, "angle": {"field": "ang", "type": "quantitative", "scale": null}}},
          {"data": {"name": "ann"}, "transform": [{"filter": "datum.p=='A2' && datum.k=='q'"}], "mark": {"type": "text", "fontStyle": "italic", "align": "right"},
           "encoding": {"x": {"field": "t", "type": "quantitative"}, "y": {"field": "a", "type": "quantitative"}, "text": {"field": "s"}}},
          {"data": {"name": "ann"}, "transform": [{"filter": "datum.p=='A2' && datum.k=='m'"}], "mark": {"type": "text", "fontStyle": "italic", "align": "right", "dx": -69},
           "encoding": {"x": {"field": "t", "type": "quantitative"}, "y": {"field": "a", "type": "quantitative"}, "text": {"value": "A"}}},
          {"data": {"name": "ann"}, "transform": [{"filter": "datum.p=='A2' && datum.k=='m'"}], "mark": {"type": "text", "fontSize": 40, "align": "right", "dy": 11},
           "encoding": {"x": {"field": "t", "type": "quantitative"}, "y": {"field": "a", "type": "quantitative"}, "text": {"value": "max"}}},
          {"data": {"name": "ann"}, "transform": [{"filter": "datum.p=='A2'"}], "mark": {"type": "text", "align": "left"},
           "encoding": {"x": {"field": "t", "type": "quantitative"}, "y": {"field": "a", "type": "quantitative"}, "text": {"field": "v"}}},
          {"data": {"name": "ann"}, "transform": [{"filter": "datum.p=='A2'"}], "mark": {"type": "text", "fontStyle": "italic", "align": "left", "dx": 153},
           "encoding": {"x": {"field": "t", "type": "quantitative"}, "y": {"field": "a", "type": "quantitative"}, "text": {"value": "g"}}},
          {"data": {"name": "lab"}, "transform": [{"filter": "datum.p=='A2'"}], "mark": {"type": "text", "align": "right"},
           "encoding": {"x": {"field": "t", "type": "quantitative"}, "y": {"field": "a", "type": "quantitative"}, "text": {"field": "txt"}}},
          {"data": {"name": "cjk"}, "transform": [{"filter": "datum.p=='A2'"}], "mark": {"type": "text", "font": "Noto Sans CJK SC", "fontSize": 66, "align": "center", "baseline": "middle"},
           "encoding": {"x": {"field": "t", "type": "quantitative"}, "y": {"field": "a", "type": "quantitative"}, "text": {"field": "txt"}}}
        ]},
        {"data": {"name": "thr"}, "transform": [{"filter": "datum.p=='A2'"}], "mark": {"type": "rule", "color": "#0000ff", "strokeWidth": 5, "strokeDash": [22, 13]},
         "encoding": {"y": {"field": "a", "type": "quantitative", "axis": {"orient": "right", "values": [-2,-1.8,-1.6,-1.4,-1.2,-1,-0.8,-0.6,-0.4,-0.2,0,0.2,0.4,0.6,0.8,1,1.2,1.4,1.6,1.8,2], "tickSize": {"condition": {"test": "abs(datum.value-round(datum.value))<0.01", "value": -20}, "value": -12}, "labels": false, "title": null}}}}
      ],
      "resolve": {"axis": {"y": "independent"}}
    },
    {
      "width": 878, "height": 464,
      "title": {"text": "(b) 水平方向测点加速度瞬态响应", "orient": "bottom", "anchor": "middle", "frame": "group", "offset": 36, "baseline": "top", "dx": -27},
      "layer": [
        {"layer": [
          {"data": {"name": "s4"}, "mark": {"type": "rule", "color": "#ff0000", "strokeWidth": 4.4},
           "encoding": {
             "x": {"field": "t", "type": "quantitative", "title": "时间/s", "scale": {"domain": [111.8, 112.8], "nice": false, "zero": false},
                   "axis": {"values": [111.8,111.85,111.9,111.95,112,112.05,112.1,112.15,112.2,112.25,112.3,112.35,112.4,112.45,112.5,112.55,112.6,112.65,112.7,112.75,112.8],
                            "tickSize": {"condition": {"test": "abs(datum.value*10-round(datum.value*10))<0.01", "value": -22}, "value": -12},
                            "labelExpr": "abs((datum.value-111.8)*2-round((datum.value-111.8)*2))<0.001 ? format(datum.value,'.1f') : ''"}},
             "y": {"field": "l", "type": "quantitative", "title": "加速度A/g", "scale": {"domain": [-1.5, 1.5], "nice": false, "zero": false},
                   "axis": {"values": [-1.5,-1.4,-1.2,-1,-0.8,-0.6,-0.4,-0.2,0,0.2,0.4,0.6,0.8,1,1.2,1.4,1.5],
                            "tickSize": {"condition": {"test": "abs(datum.value-round(datum.value))<0.01 || abs(datum.value)>1.45", "value": -20}, "value": -12},
                            "tickOpacity": {"condition": {"test": "abs(datum.value)>1.45", "value": 0}, "value": 1},
                            "labelExpr": "abs(datum.value)<0.01 ? '0' : abs(abs(datum.value)-1.5)<0.01 ? format(datum.value,'.1f') : ''"}},
             "y2": {"field": "h"}}},
          {"data": {"name": "arr"}, "transform": [{"filter": "datum.p=='A4'"}], "mark": {"type": "rule", "color": "#0000ff", "strokeWidth": 4.5},
           "encoding": {"x": {"field": "t", "type": "quantitative"}, "x2": {"field": "t2"}, "y": {"field": "a", "type": "quantitative"}, "y2": {"field": "a2"}}},
          {"data": {"name": "arr"}, "transform": [{"filter": "datum.p=='A4'"}], "mark": {"type": "point", "shape": "triangle", "filled": true, "color": "#0000ff", "size": 1800, "opacity": 1},
           "encoding": {"x": {"field": "t2", "type": "quantitative"}, "y": {"field": "a2", "type": "quantitative"}, "angle": {"field": "ang", "type": "quantitative", "scale": null}}},
          {"data": {"name": "ann"}, "transform": [{"filter": "datum.p=='A4' && datum.k=='q'"}], "mark": {"type": "text", "fontStyle": "italic", "align": "right"},
           "encoding": {"x": {"field": "t", "type": "quantitative"}, "y": {"field": "a", "type": "quantitative"}, "text": {"field": "s"}}},
          {"data": {"name": "ann"}, "transform": [{"filter": "datum.p=='A4' && datum.k=='m'"}], "mark": {"type": "text", "fontStyle": "italic", "align": "right", "dx": -69},
           "encoding": {"x": {"field": "t", "type": "quantitative"}, "y": {"field": "a", "type": "quantitative"}, "text": {"value": "A"}}},
          {"data": {"name": "ann"}, "transform": [{"filter": "datum.p=='A4' && datum.k=='m'"}], "mark": {"type": "text", "fontSize": 40, "align": "right", "dy": 11},
           "encoding": {"x": {"field": "t", "type": "quantitative"}, "y": {"field": "a", "type": "quantitative"}, "text": {"value": "max"}}},
          {"data": {"name": "ann"}, "transform": [{"filter": "datum.p=='A4'"}], "mark": {"type": "text", "align": "left"},
           "encoding": {"x": {"field": "t", "type": "quantitative"}, "y": {"field": "a", "type": "quantitative"}, "text": {"field": "v"}}},
          {"data": {"name": "ann"}, "transform": [{"filter": "datum.p=='A4'"}], "mark": {"type": "text", "fontStyle": "italic", "align": "left", "dx": 153},
           "encoding": {"x": {"field": "t", "type": "quantitative"}, "y": {"field": "a", "type": "quantitative"}, "text": {"value": "g"}}},
          {"data": {"name": "lab"}, "transform": [{"filter": "datum.p=='A4'"}], "mark": {"type": "text", "align": "right"},
           "encoding": {"x": {"field": "t", "type": "quantitative"}, "y": {"field": "a", "type": "quantitative"}, "text": {"field": "txt"}}},
          {"data": {"name": "cjk"}, "transform": [{"filter": "datum.p=='A4'"}], "mark": {"type": "text", "font": "Noto Sans CJK SC", "fontSize": 66, "align": "center", "baseline": "middle"},
           "encoding": {"x": {"field": "t", "type": "quantitative"}, "y": {"field": "a", "type": "quantitative"}, "text": {"field": "txt"}}}
        ]},
        {"data": {"name": "thr"}, "transform": [{"filter": "datum.p=='A4'"}], "mark": {"type": "rule", "color": "#0000ff", "strokeWidth": 5, "strokeDash": [22, 13]},
         "encoding": {"y": {"field": "a", "type": "quantitative", "axis": {"orient": "right", "values": [-1.5,-1.4,-1.2,-1,-0.8,-0.6,-0.4,-0.2,0,0.2,0.4,0.6,0.8,1,1.2,1.4,1.5], "tickSize": {"condition": {"test": "abs(datum.value-round(datum.value))<0.01", "value": -20}, "value": -12}, "tickOpacity": {"condition": {"test": "abs(datum.value)>1.45", "value": 0}, "value": 1}, "labels": false, "title": null}}}}
      ],
      "resolve": {"axis": {"y": "independent"}}
    },
    {
      "width": 878, "height": 464,
      "layer": [
        {"layer": [
          {"data": {"name": "s6"}, "mark": {"type": "rule", "color": "#ff0000", "strokeWidth": 4.4},
           "encoding": {
             "x": {"field": "t", "type": "quantitative", "title": "时间/s", "scale": {"domain": [111.8, 112.8], "nice": false, "zero": false},
                   "axis": {"values": [111.8,111.85,111.9,111.95,112,112.05,112.1,112.15,112.2,112.25,112.3,112.35,112.4,112.45,112.5,112.55,112.6,112.65,112.7,112.75,112.8],
                            "tickSize": {"condition": {"test": "abs(datum.value*10-round(datum.value*10))<0.01", "value": -22}, "value": -12},
                            "labelExpr": "abs((datum.value-111.8)*2-round((datum.value-111.8)*2))<0.001 ? format(datum.value,'.1f') : ''"}},
             "y": {"field": "l", "type": "quantitative", "title": "加速度A/g", "scale": {"domain": [-2, 2], "nice": false, "zero": false},
                   "axis": {"values": [-2,-1.8,-1.6,-1.4,-1.2,-1,-0.8,-0.6,-0.4,-0.2,0,0.2,0.4,0.6,0.8,1,1.2,1.4,1.6,1.8,2],
                            "tickSize": {"condition": {"test": "abs(datum.value-round(datum.value))<0.01", "value": -20}, "value": -12},
                            "labelExpr": "abs(datum.value-round(datum.value))<0.01 ? format(datum.value,'d') : ''"}},
             "y2": {"field": "h"}}},
          {"data": {"name": "arr"}, "transform": [{"filter": "datum.p=='A6'"}], "mark": {"type": "rule", "color": "#0000ff", "strokeWidth": 4.5},
           "encoding": {"x": {"field": "t", "type": "quantitative"}, "x2": {"field": "t2"}, "y": {"field": "a", "type": "quantitative"}, "y2": {"field": "a2"}}},
          {"data": {"name": "arr"}, "transform": [{"filter": "datum.p=='A6'"}], "mark": {"type": "point", "shape": "triangle", "filled": true, "color": "#0000ff", "size": 1800, "opacity": 1},
           "encoding": {"x": {"field": "t2", "type": "quantitative"}, "y": {"field": "a2", "type": "quantitative"}, "angle": {"field": "ang", "type": "quantitative", "scale": null}}},
          {"data": {"name": "ann"}, "transform": [{"filter": "datum.p=='A6' && datum.k=='q'"}], "mark": {"type": "text", "fontStyle": "italic", "align": "right"},
           "encoding": {"x": {"field": "t", "type": "quantitative"}, "y": {"field": "a", "type": "quantitative"}, "text": {"field": "s"}}},
          {"data": {"name": "ann"}, "transform": [{"filter": "datum.p=='A6' && datum.k=='m'"}], "mark": {"type": "text", "fontStyle": "italic", "align": "right", "dx": -69},
           "encoding": {"x": {"field": "t", "type": "quantitative"}, "y": {"field": "a", "type": "quantitative"}, "text": {"value": "A"}}},
          {"data": {"name": "ann"}, "transform": [{"filter": "datum.p=='A6' && datum.k=='m'"}], "mark": {"type": "text", "fontSize": 40, "align": "right", "dy": 11},
           "encoding": {"x": {"field": "t", "type": "quantitative"}, "y": {"field": "a", "type": "quantitative"}, "text": {"value": "max"}}},
          {"data": {"name": "ann"}, "transform": [{"filter": "datum.p=='A6'"}], "mark": {"type": "text", "align": "left"},
           "encoding": {"x": {"field": "t", "type": "quantitative"}, "y": {"field": "a", "type": "quantitative"}, "text": {"field": "v"}}},
          {"data": {"name": "ann"}, "transform": [{"filter": "datum.p=='A6'"}], "mark": {"type": "text", "fontStyle": "italic", "align": "left", "dx": 153},
           "encoding": {"x": {"field": "t", "type": "quantitative"}, "y": {"field": "a", "type": "quantitative"}, "text": {"value": "g"}}},
          {"data": {"name": "lab"}, "transform": [{"filter": "datum.p=='A6'"}], "mark": {"type": "text", "align": "right"},
           "encoding": {"x": {"field": "t", "type": "quantitative"}, "y": {"field": "a", "type": "quantitative"}, "text": {"field": "txt"}}},
          {"data": {"name": "cjk"}, "transform": [{"filter": "datum.p=='A6'"}], "mark": {"type": "text", "font": "Noto Sans CJK SC", "fontSize": 66, "align": "center", "baseline": "middle"},
           "encoding": {"x": {"field": "t", "type": "quantitative"}, "y": {"field": "a", "type": "quantitative"}, "text": {"field": "txt"}}}
        ]},
        {"data": {"name": "thr"}, "transform": [{"filter": "datum.p=='A6'"}], "mark": {"type": "rule", "color": "#0000ff", "strokeWidth": 5, "strokeDash": [22, 13]},
         "encoding": {"y": {"field": "a", "type": "quantitative", "axis": {"orient": "right", "values": [-2,-1.8,-1.6,-1.4,-1.2,-1,-0.8,-0.6,-0.4,-0.2,0,0.2,0.4,0.6,0.8,1,1.2,1.4,1.6,1.8,2], "tickSize": {"condition": {"test": "abs(datum.value-round(datum.value))<0.01", "value": -20}, "value": -12}, "labels": false, "title": null}}}}
      ],
      "resolve": {"axis": {"y": "independent"}}
    }
  ],
  "config": {
    "font": "Liberation Serif",
    "view": {"stroke": "#000000", "strokeWidth": 4},
    "axis": {"grid": false, "domain": false, "tickColor": "#000000", "tickWidth": 4, "labelFont": "Liberation Serif", "labelFontSize": 62, "labelColor": "#000000", "labelOverlap": false, "labelFlush": false, "titleFont": "Liberation Serif, Noto Sans CJK SC", "titleFontSize": 62, "titleFontWeight": "normal", "titleColor": "#000000"},
    "axisX": {"labelPadding": 82, "labelBaseline": "middle", "labelOffset": 9, "titleY": 142, "titleBaseline": "middle"},
    "axisY": {"labelPadding": 44, "titleX": -153, "titleBaseline": "middle"},
    "text": {"font": "Liberation Serif", "fontSize": 66, "baseline": "alphabetic", "color": "#000000"},
    "title": {"font": "Liberation Serif, Noto Sans CJK SC", "fontSize": 66, "fontWeight": "normal", "color": "#000000"}
  }
}
